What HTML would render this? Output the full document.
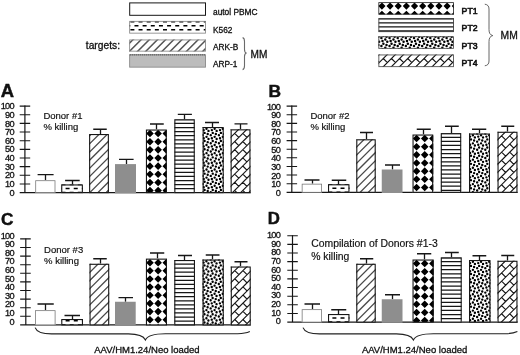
<!DOCTYPE html>
<html lang="en">
<head>
<meta charset="utf-8">
<title>Figure</title>
<style>
html,body{margin:0;padding:0;background:#fff;}
body{width:520px;height:355px;overflow:hidden;}
svg{display:block;}
svg text{font-family:"Liberation Sans", Arial, Helvetica, sans-serif;fill:#111;stroke:#111;stroke-width:0.3px;}
</style>
</head>
<body>
<svg width="520" height="355" viewBox="0 0 520 355">
<rect width="520" height="355" fill="#fff"/>
<defs>
<clipPath id="c1"><rect x="61.2" y="184.4" width="21.7" height="8.2"/></clipPath>
<clipPath id="c2"><rect x="89.1" y="134" width="19.8" height="58.6"/></clipPath>
<clipPath id="c3"><rect x="145.9" y="129.5" width="20.9" height="63.1"/></clipPath>
<clipPath id="c4"><rect x="174.3" y="119.4" width="20.5" height="73.2"/></clipPath>
<clipPath id="c5"><rect x="202.6" y="127" width="21.1" height="65.6"/></clipPath>
<clipPath id="c6"><rect x="230.6" y="129.3" width="19.9" height="63.3"/></clipPath>
<clipPath id="c7"><rect x="328" y="184.25" width="21.5" height="8.05"/></clipPath>
<clipPath id="c8"><rect x="356.25" y="139.25" width="19.5" height="53.05"/></clipPath>
<clipPath id="c9"><rect x="412.5" y="134.5" width="20.75" height="57.8"/></clipPath>
<clipPath id="c10"><rect x="440.75" y="133.25" width="20.5" height="59.05"/></clipPath>
<clipPath id="c11"><rect x="469" y="133.5" width="21" height="58.8"/></clipPath>
<clipPath id="c12"><rect x="497.5" y="131.75" width="20" height="60.55"/></clipPath>
<clipPath id="c13"><rect x="61.25" y="319" width="21.75" height="5.9"/></clipPath>
<clipPath id="c14"><rect x="89.5" y="263.75" width="19.75" height="61.15"/></clipPath>
<clipPath id="c15"><rect x="145.9" y="258.6" width="21.1" height="66.3"/></clipPath>
<clipPath id="c16"><rect x="174.25" y="260" width="20.75" height="64.9"/></clipPath>
<clipPath id="c17"><rect x="202.5" y="259.5" width="21.25" height="65.4"/></clipPath>
<clipPath id="c18"><rect x="230.75" y="266.5" width="20" height="58.4"/></clipPath>
<clipPath id="c19"><rect x="328" y="314" width="21.5" height="8.1"/></clipPath>
<clipPath id="c20"><rect x="356.25" y="263.75" width="19.5" height="58.35"/></clipPath>
<clipPath id="c21"><rect x="412.5" y="259.5" width="21.25" height="62.6"/></clipPath>
<clipPath id="c22"><rect x="440.75" y="257.5" width="21" height="64.6"/></clipPath>
<clipPath id="c23"><rect x="469" y="260" width="21.5" height="62.1"/></clipPath>
<clipPath id="c24"><rect x="497.5" y="260.75" width="20" height="61.35"/></clipPath>
<clipPath id="c25"><rect x="129.2" y="20.9" width="76.8" height="11.7"/></clipPath>
<clipPath id="c26"><rect x="129.2" y="39.5" width="76.8" height="12.1"/></clipPath>
<clipPath id="c27"><rect x="378.4" y="2.2" width="75.6" height="12.4"/></clipPath>
<clipPath id="c28"><rect x="378.4" y="18.2" width="75.6" height="13.9"/></clipPath>
<clipPath id="c29"><rect x="378.4" y="36.3" width="75.6" height="12.5"/></clipPath>
<clipPath id="c30"><rect x="378.4" y="54.5" width="75.6" height="12.6"/></clipPath>
</defs>
<g id="panelA">
<text x="0.7" y="97.0" font-size="18.4" font-weight="bold" style="stroke-width:0.45px">A</text>
<path d="M24.9 105.6V192.6" stroke="#161616" stroke-width="1.2" fill="none"/>
<path d="M19.7 192.6H250.8" stroke="#161616" stroke-width="1.3" fill="none"/>
<path d="M19.7 183.95H30.2M19.7 175.3H30.2M19.7 166.65H30.2M19.7 158H30.2M19.7 149.35H30.2M19.7 140.7H30.2M19.7 132.05H30.2M19.7 123.4H30.2M19.7 114.75H30.2M19.7 106.1H30.2" stroke="#161616" stroke-width="1.1" fill="none"/>
<text x="13.8" y="195.7" font-size="9.2" letter-spacing="-0.75" text-anchor="end">0</text>
<text x="13.8" y="187.05" font-size="9.2" letter-spacing="-0.75" text-anchor="end">10</text>
<text x="13.8" y="178.4" font-size="9.2" letter-spacing="-0.75" text-anchor="end">20</text>
<text x="13.8" y="169.75" font-size="9.2" letter-spacing="-0.75" text-anchor="end">30</text>
<text x="13.8" y="161.1" font-size="9.2" letter-spacing="-0.75" text-anchor="end">40</text>
<text x="13.8" y="152.45" font-size="9.2" letter-spacing="-0.75" text-anchor="end">50</text>
<text x="13.8" y="143.8" font-size="9.2" letter-spacing="-0.75" text-anchor="end">60</text>
<text x="13.8" y="135.15" font-size="9.2" letter-spacing="-0.75" text-anchor="end">70</text>
<text x="13.8" y="126.5" font-size="9.2" letter-spacing="-0.75" text-anchor="end">80</text>
<text x="13.8" y="117.85" font-size="9.2" letter-spacing="-0.75" text-anchor="end">90</text>
<text x="13.8" y="109.2" font-size="9.2" letter-spacing="-0.75" text-anchor="end">100</text>
<path d="M45.5 180.3V174.6M37.6 174.6H53.6" stroke="#161616" stroke-width="1.3" fill="none"/>
<rect x="35.3" y="180.3" width="20.1" height="12.3" fill="#fff"/>
<rect x="35.7" y="180.7" width="19.3" height="11.9" fill="none" stroke="#7a7a7a" stroke-width="0.8"/>
<path d="M72.5 184.4V180.5M65.1 180.5H79.7" stroke="#161616" stroke-width="1.3" fill="none"/>
<rect x="61.2" y="184.4" width="21.7" height="8.2" fill="#fff"/>
<path clip-path="url(#c1)" d="M61.5 184.45h4M69.65 184.45h4M77.8 184.45h4M57.43 188.53h4M65.58 188.53h4M73.73 188.53h4M81.88 188.53h4M61.5 192.6h4M69.65 192.6h4M77.8 192.6h4" stroke="#000" stroke-width="1.5" fill="none"/>
<rect x="61.75" y="184.95" width="20.6" height="7.65" fill="none" stroke="#161616" stroke-width="1.1"/>
<path d="M100.5 134V129.25M93.25 129.25H106.75" stroke="#161616" stroke-width="1.3" fill="none"/>
<rect x="89.1" y="134" width="19.8" height="58.6" fill="#fff"/>
<path clip-path="url(#c2)" d="M88.1 120.9L109.9 99.1M88.1 129.05L109.9 107.25M88.1 137.2L109.9 115.4M88.1 145.35L109.9 123.55M88.1 153.5L109.9 131.7M88.1 161.65L109.9 139.85M88.1 169.8L109.9 148M88.1 177.95L109.9 156.15M88.1 186.1L109.9 164.3M88.1 194.25L109.9 172.45M88.1 202.4L109.9 180.6M88.1 210.55L109.9 188.75M88.1 218.7L109.9 196.9M88.1 226.85L109.9 205.05" stroke="#4a4a4a" stroke-width="1.3" fill="none"/>
<rect x="89.65" y="134.55" width="18.7" height="58.05" fill="none" stroke="#161616" stroke-width="1.1"/>
<path d="M126.5 164.1V159.3M119 159.3H133.6" stroke="#161616" stroke-width="1.3" fill="none"/>
<rect x="115" y="164.1" width="21" height="29.2" fill="#8e8e8e"/>
<path d="M156.5 129.5V124M150 124H163.75" stroke="#161616" stroke-width="1.3" fill="none"/>
<rect x="145.9" y="129.5" width="20.9" height="63.1" fill="#fff"/>
<path clip-path="url(#c3)" d="M149.97 129.77l3.8 3.8l-3.8 3.8l-3.8 -3.8zM158.12 129.77l3.8 3.8l-3.8 3.8l-3.8 -3.8zM166.28 129.77l3.8 3.8l-3.8 3.8l-3.8 -3.8zM149.97 137.92l3.8 3.8l-3.8 3.8l-3.8 -3.8zM158.12 137.92l3.8 3.8l-3.8 3.8l-3.8 -3.8zM166.28 137.92l3.8 3.8l-3.8 3.8l-3.8 -3.8zM149.97 146.07l3.8 3.8l-3.8 3.8l-3.8 -3.8zM158.12 146.07l3.8 3.8l-3.8 3.8l-3.8 -3.8zM166.28 146.07l3.8 3.8l-3.8 3.8l-3.8 -3.8zM149.97 154.22l3.8 3.8l-3.8 3.8l-3.8 -3.8zM158.12 154.22l3.8 3.8l-3.8 3.8l-3.8 -3.8zM166.28 154.22l3.8 3.8l-3.8 3.8l-3.8 -3.8zM149.97 162.37l3.8 3.8l-3.8 3.8l-3.8 -3.8zM158.12 162.37l3.8 3.8l-3.8 3.8l-3.8 -3.8zM166.28 162.37l3.8 3.8l-3.8 3.8l-3.8 -3.8zM149.97 170.52l3.8 3.8l-3.8 3.8l-3.8 -3.8zM158.12 170.52l3.8 3.8l-3.8 3.8l-3.8 -3.8zM166.28 170.52l3.8 3.8l-3.8 3.8l-3.8 -3.8zM149.97 178.67l3.8 3.8l-3.8 3.8l-3.8 -3.8zM158.12 178.67l3.8 3.8l-3.8 3.8l-3.8 -3.8zM166.28 178.67l3.8 3.8l-3.8 3.8l-3.8 -3.8zM149.97 186.82l3.8 3.8l-3.8 3.8l-3.8 -3.8zM158.12 186.82l3.8 3.8l-3.8 3.8l-3.8 -3.8zM166.28 186.82l3.8 3.8l-3.8 3.8l-3.8 -3.8z" fill="#000"/>
<rect x="146.45" y="130.05" width="19.8" height="62.55" fill="none" stroke="#161616" stroke-width="1.1"/>
<path d="M184.5 119.4V114.4M177.8 114.4H191.9" stroke="#161616" stroke-width="1.3" fill="none"/>
<rect x="174.3" y="119.4" width="20.5" height="73.2" fill="#fff"/>
<path clip-path="url(#c4)" d="M174.3 119.4H194.8M174.3 123.48H194.8M174.3 127.55H194.8M174.3 131.62H194.8M174.3 135.7H194.8M174.3 139.78H194.8M174.3 143.85H194.8M174.3 147.93H194.8M174.3 152H194.8M174.3 156.08H194.8M174.3 160.15H194.8M174.3 164.23H194.8M174.3 168.3H194.8M174.3 172.38H194.8M174.3 176.45H194.8M174.3 180.53H194.8M174.3 184.6H194.8M174.3 188.68H194.8M174.3 192.75H194.8" stroke="#161616" stroke-width="1.25" fill="none"/>
<rect x="174.85" y="119.95" width="19.4" height="72.65" fill="none" stroke="#161616" stroke-width="1.1"/>
<path d="M212.5 127V122.5M205 122.5H219" stroke="#161616" stroke-width="1.3" fill="none"/>
<rect x="202.6" y="127" width="21.1" height="65.6" fill="#fff"/>
<path clip-path="url(#c5)" d="M206.5 125.85a1.2 1.2 0 1 0 2.4 0a1.2 1.2 0 1 0 -2.4 0zM214.65 125.85a1.2 1.2 0 1 0 2.4 0a1.2 1.2 0 1 0 -2.4 0zM222.8 125.85a1.2 1.2 0 1 0 2.4 0a1.2 1.2 0 1 0 -2.4 0zM201.4 127a1.2 1.2 0 1 0 2.4 0a1.2 1.2 0 1 0 -2.4 0zM205.3 128.7a1.2 1.2 0 1 0 2.4 0a1.2 1.2 0 1 0 -2.4 0zM202.5 130.1a1.2 1.2 0 1 0 2.4 0a1.2 1.2 0 1 0 -2.4 0zM207.3 130.9a1.2 1.2 0 1 0 2.4 0a1.2 1.2 0 1 0 -2.4 0zM203.4 132.9a1.2 1.2 0 1 0 2.4 0a1.2 1.2 0 1 0 -2.4 0zM206.5 134a1.2 1.2 0 1 0 2.4 0a1.2 1.2 0 1 0 -2.4 0zM209.55 127a1.2 1.2 0 1 0 2.4 0a1.2 1.2 0 1 0 -2.4 0zM213.45 128.7a1.2 1.2 0 1 0 2.4 0a1.2 1.2 0 1 0 -2.4 0zM210.65 130.1a1.2 1.2 0 1 0 2.4 0a1.2 1.2 0 1 0 -2.4 0zM215.45 130.9a1.2 1.2 0 1 0 2.4 0a1.2 1.2 0 1 0 -2.4 0zM211.55 132.9a1.2 1.2 0 1 0 2.4 0a1.2 1.2 0 1 0 -2.4 0zM214.65 134a1.2 1.2 0 1 0 2.4 0a1.2 1.2 0 1 0 -2.4 0zM217.7 127a1.2 1.2 0 1 0 2.4 0a1.2 1.2 0 1 0 -2.4 0zM221.6 128.7a1.2 1.2 0 1 0 2.4 0a1.2 1.2 0 1 0 -2.4 0zM218.8 130.1a1.2 1.2 0 1 0 2.4 0a1.2 1.2 0 1 0 -2.4 0zM223.6 130.9a1.2 1.2 0 1 0 2.4 0a1.2 1.2 0 1 0 -2.4 0zM219.7 132.9a1.2 1.2 0 1 0 2.4 0a1.2 1.2 0 1 0 -2.4 0zM222.8 134a1.2 1.2 0 1 0 2.4 0a1.2 1.2 0 1 0 -2.4 0zM201.4 135.15a1.2 1.2 0 1 0 2.4 0a1.2 1.2 0 1 0 -2.4 0zM205.3 136.85a1.2 1.2 0 1 0 2.4 0a1.2 1.2 0 1 0 -2.4 0zM202.5 138.25a1.2 1.2 0 1 0 2.4 0a1.2 1.2 0 1 0 -2.4 0zM207.3 139.05a1.2 1.2 0 1 0 2.4 0a1.2 1.2 0 1 0 -2.4 0zM203.4 141.05a1.2 1.2 0 1 0 2.4 0a1.2 1.2 0 1 0 -2.4 0zM206.5 142.15a1.2 1.2 0 1 0 2.4 0a1.2 1.2 0 1 0 -2.4 0zM209.55 135.15a1.2 1.2 0 1 0 2.4 0a1.2 1.2 0 1 0 -2.4 0zM213.45 136.85a1.2 1.2 0 1 0 2.4 0a1.2 1.2 0 1 0 -2.4 0zM210.65 138.25a1.2 1.2 0 1 0 2.4 0a1.2 1.2 0 1 0 -2.4 0zM215.45 139.05a1.2 1.2 0 1 0 2.4 0a1.2 1.2 0 1 0 -2.4 0zM211.55 141.05a1.2 1.2 0 1 0 2.4 0a1.2 1.2 0 1 0 -2.4 0zM214.65 142.15a1.2 1.2 0 1 0 2.4 0a1.2 1.2 0 1 0 -2.4 0zM217.7 135.15a1.2 1.2 0 1 0 2.4 0a1.2 1.2 0 1 0 -2.4 0zM221.6 136.85a1.2 1.2 0 1 0 2.4 0a1.2 1.2 0 1 0 -2.4 0zM218.8 138.25a1.2 1.2 0 1 0 2.4 0a1.2 1.2 0 1 0 -2.4 0zM223.6 139.05a1.2 1.2 0 1 0 2.4 0a1.2 1.2 0 1 0 -2.4 0zM219.7 141.05a1.2 1.2 0 1 0 2.4 0a1.2 1.2 0 1 0 -2.4 0zM222.8 142.15a1.2 1.2 0 1 0 2.4 0a1.2 1.2 0 1 0 -2.4 0zM201.4 143.3a1.2 1.2 0 1 0 2.4 0a1.2 1.2 0 1 0 -2.4 0zM205.3 145a1.2 1.2 0 1 0 2.4 0a1.2 1.2 0 1 0 -2.4 0zM202.5 146.4a1.2 1.2 0 1 0 2.4 0a1.2 1.2 0 1 0 -2.4 0zM207.3 147.2a1.2 1.2 0 1 0 2.4 0a1.2 1.2 0 1 0 -2.4 0zM203.4 149.2a1.2 1.2 0 1 0 2.4 0a1.2 1.2 0 1 0 -2.4 0zM206.5 150.3a1.2 1.2 0 1 0 2.4 0a1.2 1.2 0 1 0 -2.4 0zM209.55 143.3a1.2 1.2 0 1 0 2.4 0a1.2 1.2 0 1 0 -2.4 0zM213.45 145a1.2 1.2 0 1 0 2.4 0a1.2 1.2 0 1 0 -2.4 0zM210.65 146.4a1.2 1.2 0 1 0 2.4 0a1.2 1.2 0 1 0 -2.4 0zM215.45 147.2a1.2 1.2 0 1 0 2.4 0a1.2 1.2 0 1 0 -2.4 0zM211.55 149.2a1.2 1.2 0 1 0 2.4 0a1.2 1.2 0 1 0 -2.4 0zM214.65 150.3a1.2 1.2 0 1 0 2.4 0a1.2 1.2 0 1 0 -2.4 0zM217.7 143.3a1.2 1.2 0 1 0 2.4 0a1.2 1.2 0 1 0 -2.4 0zM221.6 145a1.2 1.2 0 1 0 2.4 0a1.2 1.2 0 1 0 -2.4 0zM218.8 146.4a1.2 1.2 0 1 0 2.4 0a1.2 1.2 0 1 0 -2.4 0zM223.6 147.2a1.2 1.2 0 1 0 2.4 0a1.2 1.2 0 1 0 -2.4 0zM219.7 149.2a1.2 1.2 0 1 0 2.4 0a1.2 1.2 0 1 0 -2.4 0zM222.8 150.3a1.2 1.2 0 1 0 2.4 0a1.2 1.2 0 1 0 -2.4 0zM201.4 151.45a1.2 1.2 0 1 0 2.4 0a1.2 1.2 0 1 0 -2.4 0zM205.3 153.15a1.2 1.2 0 1 0 2.4 0a1.2 1.2 0 1 0 -2.4 0zM202.5 154.55a1.2 1.2 0 1 0 2.4 0a1.2 1.2 0 1 0 -2.4 0zM207.3 155.35a1.2 1.2 0 1 0 2.4 0a1.2 1.2 0 1 0 -2.4 0zM203.4 157.35a1.2 1.2 0 1 0 2.4 0a1.2 1.2 0 1 0 -2.4 0zM206.5 158.45a1.2 1.2 0 1 0 2.4 0a1.2 1.2 0 1 0 -2.4 0zM209.55 151.45a1.2 1.2 0 1 0 2.4 0a1.2 1.2 0 1 0 -2.4 0zM213.45 153.15a1.2 1.2 0 1 0 2.4 0a1.2 1.2 0 1 0 -2.4 0zM210.65 154.55a1.2 1.2 0 1 0 2.4 0a1.2 1.2 0 1 0 -2.4 0zM215.45 155.35a1.2 1.2 0 1 0 2.4 0a1.2 1.2 0 1 0 -2.4 0zM211.55 157.35a1.2 1.2 0 1 0 2.4 0a1.2 1.2 0 1 0 -2.4 0zM214.65 158.45a1.2 1.2 0 1 0 2.4 0a1.2 1.2 0 1 0 -2.4 0zM217.7 151.45a1.2 1.2 0 1 0 2.4 0a1.2 1.2 0 1 0 -2.4 0zM221.6 153.15a1.2 1.2 0 1 0 2.4 0a1.2 1.2 0 1 0 -2.4 0zM218.8 154.55a1.2 1.2 0 1 0 2.4 0a1.2 1.2 0 1 0 -2.4 0zM223.6 155.35a1.2 1.2 0 1 0 2.4 0a1.2 1.2 0 1 0 -2.4 0zM219.7 157.35a1.2 1.2 0 1 0 2.4 0a1.2 1.2 0 1 0 -2.4 0zM222.8 158.45a1.2 1.2 0 1 0 2.4 0a1.2 1.2 0 1 0 -2.4 0zM201.4 159.6a1.2 1.2 0 1 0 2.4 0a1.2 1.2 0 1 0 -2.4 0zM205.3 161.3a1.2 1.2 0 1 0 2.4 0a1.2 1.2 0 1 0 -2.4 0zM202.5 162.7a1.2 1.2 0 1 0 2.4 0a1.2 1.2 0 1 0 -2.4 0zM207.3 163.5a1.2 1.2 0 1 0 2.4 0a1.2 1.2 0 1 0 -2.4 0zM203.4 165.5a1.2 1.2 0 1 0 2.4 0a1.2 1.2 0 1 0 -2.4 0zM206.5 166.6a1.2 1.2 0 1 0 2.4 0a1.2 1.2 0 1 0 -2.4 0zM209.55 159.6a1.2 1.2 0 1 0 2.4 0a1.2 1.2 0 1 0 -2.4 0zM213.45 161.3a1.2 1.2 0 1 0 2.4 0a1.2 1.2 0 1 0 -2.4 0zM210.65 162.7a1.2 1.2 0 1 0 2.4 0a1.2 1.2 0 1 0 -2.4 0zM215.45 163.5a1.2 1.2 0 1 0 2.4 0a1.2 1.2 0 1 0 -2.4 0zM211.55 165.5a1.2 1.2 0 1 0 2.4 0a1.2 1.2 0 1 0 -2.4 0zM214.65 166.6a1.2 1.2 0 1 0 2.4 0a1.2 1.2 0 1 0 -2.4 0zM217.7 159.6a1.2 1.2 0 1 0 2.4 0a1.2 1.2 0 1 0 -2.4 0zM221.6 161.3a1.2 1.2 0 1 0 2.4 0a1.2 1.2 0 1 0 -2.4 0zM218.8 162.7a1.2 1.2 0 1 0 2.4 0a1.2 1.2 0 1 0 -2.4 0zM223.6 163.5a1.2 1.2 0 1 0 2.4 0a1.2 1.2 0 1 0 -2.4 0zM219.7 165.5a1.2 1.2 0 1 0 2.4 0a1.2 1.2 0 1 0 -2.4 0zM222.8 166.6a1.2 1.2 0 1 0 2.4 0a1.2 1.2 0 1 0 -2.4 0zM201.4 167.75a1.2 1.2 0 1 0 2.4 0a1.2 1.2 0 1 0 -2.4 0zM205.3 169.45a1.2 1.2 0 1 0 2.4 0a1.2 1.2 0 1 0 -2.4 0zM202.5 170.85a1.2 1.2 0 1 0 2.4 0a1.2 1.2 0 1 0 -2.4 0zM207.3 171.65a1.2 1.2 0 1 0 2.4 0a1.2 1.2 0 1 0 -2.4 0zM203.4 173.65a1.2 1.2 0 1 0 2.4 0a1.2 1.2 0 1 0 -2.4 0zM206.5 174.75a1.2 1.2 0 1 0 2.4 0a1.2 1.2 0 1 0 -2.4 0zM209.55 167.75a1.2 1.2 0 1 0 2.4 0a1.2 1.2 0 1 0 -2.4 0zM213.45 169.45a1.2 1.2 0 1 0 2.4 0a1.2 1.2 0 1 0 -2.4 0zM210.65 170.85a1.2 1.2 0 1 0 2.4 0a1.2 1.2 0 1 0 -2.4 0zM215.45 171.65a1.2 1.2 0 1 0 2.4 0a1.2 1.2 0 1 0 -2.4 0zM211.55 173.65a1.2 1.2 0 1 0 2.4 0a1.2 1.2 0 1 0 -2.4 0zM214.65 174.75a1.2 1.2 0 1 0 2.4 0a1.2 1.2 0 1 0 -2.4 0zM217.7 167.75a1.2 1.2 0 1 0 2.4 0a1.2 1.2 0 1 0 -2.4 0zM221.6 169.45a1.2 1.2 0 1 0 2.4 0a1.2 1.2 0 1 0 -2.4 0zM218.8 170.85a1.2 1.2 0 1 0 2.4 0a1.2 1.2 0 1 0 -2.4 0zM223.6 171.65a1.2 1.2 0 1 0 2.4 0a1.2 1.2 0 1 0 -2.4 0zM219.7 173.65a1.2 1.2 0 1 0 2.4 0a1.2 1.2 0 1 0 -2.4 0zM222.8 174.75a1.2 1.2 0 1 0 2.4 0a1.2 1.2 0 1 0 -2.4 0zM201.4 175.9a1.2 1.2 0 1 0 2.4 0a1.2 1.2 0 1 0 -2.4 0zM205.3 177.6a1.2 1.2 0 1 0 2.4 0a1.2 1.2 0 1 0 -2.4 0zM202.5 179a1.2 1.2 0 1 0 2.4 0a1.2 1.2 0 1 0 -2.4 0zM207.3 179.8a1.2 1.2 0 1 0 2.4 0a1.2 1.2 0 1 0 -2.4 0zM203.4 181.8a1.2 1.2 0 1 0 2.4 0a1.2 1.2 0 1 0 -2.4 0zM206.5 182.9a1.2 1.2 0 1 0 2.4 0a1.2 1.2 0 1 0 -2.4 0zM209.55 175.9a1.2 1.2 0 1 0 2.4 0a1.2 1.2 0 1 0 -2.4 0zM213.45 177.6a1.2 1.2 0 1 0 2.4 0a1.2 1.2 0 1 0 -2.4 0zM210.65 179a1.2 1.2 0 1 0 2.4 0a1.2 1.2 0 1 0 -2.4 0zM215.45 179.8a1.2 1.2 0 1 0 2.4 0a1.2 1.2 0 1 0 -2.4 0zM211.55 181.8a1.2 1.2 0 1 0 2.4 0a1.2 1.2 0 1 0 -2.4 0zM214.65 182.9a1.2 1.2 0 1 0 2.4 0a1.2 1.2 0 1 0 -2.4 0zM217.7 175.9a1.2 1.2 0 1 0 2.4 0a1.2 1.2 0 1 0 -2.4 0zM221.6 177.6a1.2 1.2 0 1 0 2.4 0a1.2 1.2 0 1 0 -2.4 0zM218.8 179a1.2 1.2 0 1 0 2.4 0a1.2 1.2 0 1 0 -2.4 0zM223.6 179.8a1.2 1.2 0 1 0 2.4 0a1.2 1.2 0 1 0 -2.4 0zM219.7 181.8a1.2 1.2 0 1 0 2.4 0a1.2 1.2 0 1 0 -2.4 0zM222.8 182.9a1.2 1.2 0 1 0 2.4 0a1.2 1.2 0 1 0 -2.4 0zM201.4 184.05a1.2 1.2 0 1 0 2.4 0a1.2 1.2 0 1 0 -2.4 0zM205.3 185.75a1.2 1.2 0 1 0 2.4 0a1.2 1.2 0 1 0 -2.4 0zM202.5 187.15a1.2 1.2 0 1 0 2.4 0a1.2 1.2 0 1 0 -2.4 0zM207.3 187.95a1.2 1.2 0 1 0 2.4 0a1.2 1.2 0 1 0 -2.4 0zM203.4 189.95a1.2 1.2 0 1 0 2.4 0a1.2 1.2 0 1 0 -2.4 0zM206.5 191.05a1.2 1.2 0 1 0 2.4 0a1.2 1.2 0 1 0 -2.4 0zM209.55 184.05a1.2 1.2 0 1 0 2.4 0a1.2 1.2 0 1 0 -2.4 0zM213.45 185.75a1.2 1.2 0 1 0 2.4 0a1.2 1.2 0 1 0 -2.4 0zM210.65 187.15a1.2 1.2 0 1 0 2.4 0a1.2 1.2 0 1 0 -2.4 0zM215.45 187.95a1.2 1.2 0 1 0 2.4 0a1.2 1.2 0 1 0 -2.4 0zM211.55 189.95a1.2 1.2 0 1 0 2.4 0a1.2 1.2 0 1 0 -2.4 0zM214.65 191.05a1.2 1.2 0 1 0 2.4 0a1.2 1.2 0 1 0 -2.4 0zM217.7 184.05a1.2 1.2 0 1 0 2.4 0a1.2 1.2 0 1 0 -2.4 0zM221.6 185.75a1.2 1.2 0 1 0 2.4 0a1.2 1.2 0 1 0 -2.4 0zM218.8 187.15a1.2 1.2 0 1 0 2.4 0a1.2 1.2 0 1 0 -2.4 0zM223.6 187.95a1.2 1.2 0 1 0 2.4 0a1.2 1.2 0 1 0 -2.4 0zM219.7 189.95a1.2 1.2 0 1 0 2.4 0a1.2 1.2 0 1 0 -2.4 0zM222.8 191.05a1.2 1.2 0 1 0 2.4 0a1.2 1.2 0 1 0 -2.4 0zM201.4 192.2a1.2 1.2 0 1 0 2.4 0a1.2 1.2 0 1 0 -2.4 0zM209.55 192.2a1.2 1.2 0 1 0 2.4 0a1.2 1.2 0 1 0 -2.4 0zM217.7 192.2a1.2 1.2 0 1 0 2.4 0a1.2 1.2 0 1 0 -2.4 0z" fill="#000"/>
<rect x="203.15" y="127.55" width="20" height="65.05" fill="none" stroke="#161616" stroke-width="1.1"/>
<path d="M240.5 129.3V123.9M234.5 123.9H247.5" stroke="#161616" stroke-width="1.3" fill="none"/>
<rect x="230.6" y="129.3" width="19.9" height="63.3" fill="#fff"/>
<path clip-path="url(#c6)" d="M229.6 122.15L251.5 100.25M229.6 130.3L251.5 108.4M229.6 138.45L251.5 116.55M229.6 146.6L251.5 124.7M229.6 154.75L251.5 132.85M229.6 162.9L251.5 141M229.6 171.05L251.5 149.15M229.6 179.2L251.5 157.3M229.6 187.35L251.5 165.45M229.6 195.5L251.5 173.6M229.6 203.65L251.5 181.75M229.6 211.8L251.5 189.9M229.6 219.95L251.5 198.05M229.6 228.1L251.5 206.2M234.67 133.38l4.08 4.08M242.82 133.38l4.08 4.08M234.67 141.53l4.08 4.08M242.82 141.53l4.08 4.08M234.67 149.68l4.08 4.08M242.82 149.68l4.08 4.08M234.67 157.82l4.08 4.08M242.82 157.82l4.08 4.08M234.67 165.97l4.08 4.08M242.82 165.97l4.08 4.08M234.67 174.12l4.08 4.08M242.82 174.12l4.08 4.08M234.67 182.28l4.08 4.08M242.82 182.28l4.08 4.08M234.67 190.43l4.08 4.08M242.82 190.43l4.08 4.08" stroke="#161616" stroke-width="1.15" fill="none"/>
<rect x="231.15" y="129.85" width="18.8" height="62.75" fill="none" stroke="#161616" stroke-width="1.1"/>
<text x="43.4" y="118.9" font-size="9.5" style="stroke-width:0.18px">Donor #1</text>
<text x="43.4" y="130.1" font-size="9.5" style="stroke-width:0.18px">% killing</text>
</g>
<g id="panelB">
<text x="268.4" y="97.0" font-size="17.4" font-weight="bold" style="stroke-width:0.45px">B</text>
<path d="M291.8 105.6V192.3" stroke="#161616" stroke-width="1.2" fill="none"/>
<path d="M286.6 192.3H517.7" stroke="#161616" stroke-width="1.3" fill="none"/>
<path d="M286.6 183.68H297.1M286.6 175.06H297.1M286.6 166.44H297.1M286.6 157.82H297.1M286.6 149.2H297.1M286.6 140.58H297.1M286.6 131.96H297.1M286.6 123.34H297.1M286.6 114.72H297.1M286.6 106.1H297.1" stroke="#161616" stroke-width="1.1" fill="none"/>
<text x="280.1" y="195.8" font-size="9.2" letter-spacing="-0.75" text-anchor="end">0</text>
<text x="280.1" y="187.18" font-size="9.2" letter-spacing="-0.75" text-anchor="end">10</text>
<text x="280.1" y="178.56" font-size="9.2" letter-spacing="-0.75" text-anchor="end">20</text>
<text x="280.1" y="169.94" font-size="9.2" letter-spacing="-0.75" text-anchor="end">30</text>
<text x="280.1" y="161.32" font-size="9.2" letter-spacing="-0.75" text-anchor="end">40</text>
<text x="280.1" y="152.7" font-size="9.2" letter-spacing="-0.75" text-anchor="end">50</text>
<text x="280.1" y="144.08" font-size="9.2" letter-spacing="-0.75" text-anchor="end">60</text>
<text x="280.1" y="135.46" font-size="9.2" letter-spacing="-0.75" text-anchor="end">70</text>
<text x="280.1" y="126.84" font-size="9.2" letter-spacing="-0.75" text-anchor="end">80</text>
<text x="280.1" y="118.22" font-size="9.2" letter-spacing="-0.75" text-anchor="end">90</text>
<text x="280.1" y="109.6" font-size="9.2" letter-spacing="-0.75" text-anchor="end">100</text>
<path d="M312.5 183.75V180M304.5 180H319.5" stroke="#161616" stroke-width="1.3" fill="none"/>
<rect x="301.75" y="183.75" width="20.25" height="8.55" fill="#fff"/>
<rect x="302.15" y="184.15" width="19.45" height="8.15" fill="none" stroke="#7a7a7a" stroke-width="0.8"/>
<path d="M338.5 184.25V180.25M331.75 180.25H346.25" stroke="#161616" stroke-width="1.3" fill="none"/>
<rect x="328" y="184.25" width="21.5" height="8.05" fill="#fff"/>
<path clip-path="url(#c7)" d="M328.3 184.15h4M336.45 184.15h4M344.6 184.15h4M324.23 188.23h4M332.38 188.23h4M340.52 188.23h4M348.68 188.23h4M328.3 192.3h4M336.45 192.3h4M344.6 192.3h4" stroke="#000" stroke-width="1.5" fill="none"/>
<rect x="328.55" y="184.8" width="20.4" height="7.5" fill="none" stroke="#161616" stroke-width="1.1"/>
<path d="M366.5 139.25V132.5M360 132.5H373" stroke="#161616" stroke-width="1.3" fill="none"/>
<rect x="356.25" y="139.25" width="19.5" height="53.05" fill="#fff"/>
<path clip-path="url(#c8)" d="M355.25 132L376.75 110.5M355.25 140.15L376.75 118.65M355.25 148.3L376.75 126.8M355.25 156.45L376.75 134.95M355.25 164.6L376.75 143.1M355.25 172.75L376.75 151.25M355.25 180.9L376.75 159.4M355.25 189.05L376.75 167.55M355.25 197.2L376.75 175.7M355.25 205.35L376.75 183.85M355.25 213.5L376.75 192M355.25 221.65L376.75 200.15" stroke="#4a4a4a" stroke-width="1.3" fill="none"/>
<rect x="356.8" y="139.8" width="18.4" height="52.5" fill="none" stroke="#161616" stroke-width="1.1"/>
<path d="M392.5 169.5V165M385 165H400" stroke="#161616" stroke-width="1.3" fill="none"/>
<rect x="381.75" y="169.5" width="20.75" height="23.5" fill="#8e8e8e"/>
<path d="M423.5 134.5V129.25M416.75 129.25H430.75" stroke="#161616" stroke-width="1.3" fill="none"/>
<rect x="412.5" y="134.5" width="20.75" height="57.8" fill="#fff"/>
<path clip-path="url(#c9)" d="M408.43 134.77l3.8 3.8l-3.8 3.8l-3.8 -3.8zM416.57 134.77l3.8 3.8l-3.8 3.8l-3.8 -3.8zM424.72 134.77l3.8 3.8l-3.8 3.8l-3.8 -3.8zM432.88 134.77l3.8 3.8l-3.8 3.8l-3.8 -3.8zM408.43 142.92l3.8 3.8l-3.8 3.8l-3.8 -3.8zM416.57 142.92l3.8 3.8l-3.8 3.8l-3.8 -3.8zM424.72 142.92l3.8 3.8l-3.8 3.8l-3.8 -3.8zM432.88 142.92l3.8 3.8l-3.8 3.8l-3.8 -3.8zM408.43 151.07l3.8 3.8l-3.8 3.8l-3.8 -3.8zM416.57 151.07l3.8 3.8l-3.8 3.8l-3.8 -3.8zM424.72 151.07l3.8 3.8l-3.8 3.8l-3.8 -3.8zM432.88 151.07l3.8 3.8l-3.8 3.8l-3.8 -3.8zM408.43 159.22l3.8 3.8l-3.8 3.8l-3.8 -3.8zM416.57 159.22l3.8 3.8l-3.8 3.8l-3.8 -3.8zM424.72 159.22l3.8 3.8l-3.8 3.8l-3.8 -3.8zM432.88 159.22l3.8 3.8l-3.8 3.8l-3.8 -3.8zM408.43 167.37l3.8 3.8l-3.8 3.8l-3.8 -3.8zM416.57 167.37l3.8 3.8l-3.8 3.8l-3.8 -3.8zM424.72 167.37l3.8 3.8l-3.8 3.8l-3.8 -3.8zM432.88 167.37l3.8 3.8l-3.8 3.8l-3.8 -3.8zM408.43 175.52l3.8 3.8l-3.8 3.8l-3.8 -3.8zM416.57 175.52l3.8 3.8l-3.8 3.8l-3.8 -3.8zM424.72 175.52l3.8 3.8l-3.8 3.8l-3.8 -3.8zM432.88 175.52l3.8 3.8l-3.8 3.8l-3.8 -3.8zM408.43 183.67l3.8 3.8l-3.8 3.8l-3.8 -3.8zM416.57 183.67l3.8 3.8l-3.8 3.8l-3.8 -3.8zM424.72 183.67l3.8 3.8l-3.8 3.8l-3.8 -3.8zM432.88 183.67l3.8 3.8l-3.8 3.8l-3.8 -3.8zM408.43 191.82l3.8 3.8l-3.8 3.8l-3.8 -3.8zM416.57 191.82l3.8 3.8l-3.8 3.8l-3.8 -3.8zM424.72 191.82l3.8 3.8l-3.8 3.8l-3.8 -3.8zM432.88 191.82l3.8 3.8l-3.8 3.8l-3.8 -3.8z" fill="#000"/>
<rect x="413.05" y="135.05" width="19.65" height="57.25" fill="none" stroke="#161616" stroke-width="1.1"/>
<path d="M451.5 133.25V126.25M445 126.25H458.75" stroke="#161616" stroke-width="1.3" fill="none"/>
<rect x="440.75" y="133.25" width="20.5" height="59.05" fill="#fff"/>
<path clip-path="url(#c10)" d="M440.75 133.25H461.25M440.75 137.32H461.25M440.75 141.4H461.25M440.75 145.47H461.25M440.75 149.55H461.25M440.75 153.62H461.25M440.75 157.7H461.25M440.75 161.78H461.25M440.75 165.85H461.25M440.75 169.93H461.25M440.75 174H461.25M440.75 178.07H461.25M440.75 182.15H461.25M440.75 186.22H461.25M440.75 190.3H461.25" stroke="#161616" stroke-width="1.25" fill="none"/>
<rect x="441.3" y="133.8" width="19.4" height="58.5" fill="none" stroke="#161616" stroke-width="1.1"/>
<path d="M479.5 133.5V129.25M472 129.25H486.25" stroke="#161616" stroke-width="1.3" fill="none"/>
<rect x="469" y="133.5" width="21" height="58.8" fill="#fff"/>
<path clip-path="url(#c11)" d="M472.9 132.35a1.2 1.2 0 1 0 2.4 0a1.2 1.2 0 1 0 -2.4 0zM481.05 132.35a1.2 1.2 0 1 0 2.4 0a1.2 1.2 0 1 0 -2.4 0zM489.2 132.35a1.2 1.2 0 1 0 2.4 0a1.2 1.2 0 1 0 -2.4 0zM467.8 133.5a1.2 1.2 0 1 0 2.4 0a1.2 1.2 0 1 0 -2.4 0zM471.7 135.2a1.2 1.2 0 1 0 2.4 0a1.2 1.2 0 1 0 -2.4 0zM468.9 136.6a1.2 1.2 0 1 0 2.4 0a1.2 1.2 0 1 0 -2.4 0zM473.7 137.4a1.2 1.2 0 1 0 2.4 0a1.2 1.2 0 1 0 -2.4 0zM469.8 139.4a1.2 1.2 0 1 0 2.4 0a1.2 1.2 0 1 0 -2.4 0zM472.9 140.5a1.2 1.2 0 1 0 2.4 0a1.2 1.2 0 1 0 -2.4 0zM475.95 133.5a1.2 1.2 0 1 0 2.4 0a1.2 1.2 0 1 0 -2.4 0zM479.85 135.2a1.2 1.2 0 1 0 2.4 0a1.2 1.2 0 1 0 -2.4 0zM477.05 136.6a1.2 1.2 0 1 0 2.4 0a1.2 1.2 0 1 0 -2.4 0zM481.85 137.4a1.2 1.2 0 1 0 2.4 0a1.2 1.2 0 1 0 -2.4 0zM477.95 139.4a1.2 1.2 0 1 0 2.4 0a1.2 1.2 0 1 0 -2.4 0zM481.05 140.5a1.2 1.2 0 1 0 2.4 0a1.2 1.2 0 1 0 -2.4 0zM484.1 133.5a1.2 1.2 0 1 0 2.4 0a1.2 1.2 0 1 0 -2.4 0zM488 135.2a1.2 1.2 0 1 0 2.4 0a1.2 1.2 0 1 0 -2.4 0zM485.2 136.6a1.2 1.2 0 1 0 2.4 0a1.2 1.2 0 1 0 -2.4 0zM490 137.4a1.2 1.2 0 1 0 2.4 0a1.2 1.2 0 1 0 -2.4 0zM486.1 139.4a1.2 1.2 0 1 0 2.4 0a1.2 1.2 0 1 0 -2.4 0zM489.2 140.5a1.2 1.2 0 1 0 2.4 0a1.2 1.2 0 1 0 -2.4 0zM467.8 141.65a1.2 1.2 0 1 0 2.4 0a1.2 1.2 0 1 0 -2.4 0zM471.7 143.35a1.2 1.2 0 1 0 2.4 0a1.2 1.2 0 1 0 -2.4 0zM468.9 144.75a1.2 1.2 0 1 0 2.4 0a1.2 1.2 0 1 0 -2.4 0zM473.7 145.55a1.2 1.2 0 1 0 2.4 0a1.2 1.2 0 1 0 -2.4 0zM469.8 147.55a1.2 1.2 0 1 0 2.4 0a1.2 1.2 0 1 0 -2.4 0zM472.9 148.65a1.2 1.2 0 1 0 2.4 0a1.2 1.2 0 1 0 -2.4 0zM475.95 141.65a1.2 1.2 0 1 0 2.4 0a1.2 1.2 0 1 0 -2.4 0zM479.85 143.35a1.2 1.2 0 1 0 2.4 0a1.2 1.2 0 1 0 -2.4 0zM477.05 144.75a1.2 1.2 0 1 0 2.4 0a1.2 1.2 0 1 0 -2.4 0zM481.85 145.55a1.2 1.2 0 1 0 2.4 0a1.2 1.2 0 1 0 -2.4 0zM477.95 147.55a1.2 1.2 0 1 0 2.4 0a1.2 1.2 0 1 0 -2.4 0zM481.05 148.65a1.2 1.2 0 1 0 2.4 0a1.2 1.2 0 1 0 -2.4 0zM484.1 141.65a1.2 1.2 0 1 0 2.4 0a1.2 1.2 0 1 0 -2.4 0zM488 143.35a1.2 1.2 0 1 0 2.4 0a1.2 1.2 0 1 0 -2.4 0zM485.2 144.75a1.2 1.2 0 1 0 2.4 0a1.2 1.2 0 1 0 -2.4 0zM490 145.55a1.2 1.2 0 1 0 2.4 0a1.2 1.2 0 1 0 -2.4 0zM486.1 147.55a1.2 1.2 0 1 0 2.4 0a1.2 1.2 0 1 0 -2.4 0zM489.2 148.65a1.2 1.2 0 1 0 2.4 0a1.2 1.2 0 1 0 -2.4 0zM467.8 149.8a1.2 1.2 0 1 0 2.4 0a1.2 1.2 0 1 0 -2.4 0zM471.7 151.5a1.2 1.2 0 1 0 2.4 0a1.2 1.2 0 1 0 -2.4 0zM468.9 152.9a1.2 1.2 0 1 0 2.4 0a1.2 1.2 0 1 0 -2.4 0zM473.7 153.7a1.2 1.2 0 1 0 2.4 0a1.2 1.2 0 1 0 -2.4 0zM469.8 155.7a1.2 1.2 0 1 0 2.4 0a1.2 1.2 0 1 0 -2.4 0zM472.9 156.8a1.2 1.2 0 1 0 2.4 0a1.2 1.2 0 1 0 -2.4 0zM475.95 149.8a1.2 1.2 0 1 0 2.4 0a1.2 1.2 0 1 0 -2.4 0zM479.85 151.5a1.2 1.2 0 1 0 2.4 0a1.2 1.2 0 1 0 -2.4 0zM477.05 152.9a1.2 1.2 0 1 0 2.4 0a1.2 1.2 0 1 0 -2.4 0zM481.85 153.7a1.2 1.2 0 1 0 2.4 0a1.2 1.2 0 1 0 -2.4 0zM477.95 155.7a1.2 1.2 0 1 0 2.4 0a1.2 1.2 0 1 0 -2.4 0zM481.05 156.8a1.2 1.2 0 1 0 2.4 0a1.2 1.2 0 1 0 -2.4 0zM484.1 149.8a1.2 1.2 0 1 0 2.4 0a1.2 1.2 0 1 0 -2.4 0zM488 151.5a1.2 1.2 0 1 0 2.4 0a1.2 1.2 0 1 0 -2.4 0zM485.2 152.9a1.2 1.2 0 1 0 2.4 0a1.2 1.2 0 1 0 -2.4 0zM490 153.7a1.2 1.2 0 1 0 2.4 0a1.2 1.2 0 1 0 -2.4 0zM486.1 155.7a1.2 1.2 0 1 0 2.4 0a1.2 1.2 0 1 0 -2.4 0zM489.2 156.8a1.2 1.2 0 1 0 2.4 0a1.2 1.2 0 1 0 -2.4 0zM467.8 157.95a1.2 1.2 0 1 0 2.4 0a1.2 1.2 0 1 0 -2.4 0zM471.7 159.65a1.2 1.2 0 1 0 2.4 0a1.2 1.2 0 1 0 -2.4 0zM468.9 161.05a1.2 1.2 0 1 0 2.4 0a1.2 1.2 0 1 0 -2.4 0zM473.7 161.85a1.2 1.2 0 1 0 2.4 0a1.2 1.2 0 1 0 -2.4 0zM469.8 163.85a1.2 1.2 0 1 0 2.4 0a1.2 1.2 0 1 0 -2.4 0zM472.9 164.95a1.2 1.2 0 1 0 2.4 0a1.2 1.2 0 1 0 -2.4 0zM475.95 157.95a1.2 1.2 0 1 0 2.4 0a1.2 1.2 0 1 0 -2.4 0zM479.85 159.65a1.2 1.2 0 1 0 2.4 0a1.2 1.2 0 1 0 -2.4 0zM477.05 161.05a1.2 1.2 0 1 0 2.4 0a1.2 1.2 0 1 0 -2.4 0zM481.85 161.85a1.2 1.2 0 1 0 2.4 0a1.2 1.2 0 1 0 -2.4 0zM477.95 163.85a1.2 1.2 0 1 0 2.4 0a1.2 1.2 0 1 0 -2.4 0zM481.05 164.95a1.2 1.2 0 1 0 2.4 0a1.2 1.2 0 1 0 -2.4 0zM484.1 157.95a1.2 1.2 0 1 0 2.4 0a1.2 1.2 0 1 0 -2.4 0zM488 159.65a1.2 1.2 0 1 0 2.4 0a1.2 1.2 0 1 0 -2.4 0zM485.2 161.05a1.2 1.2 0 1 0 2.4 0a1.2 1.2 0 1 0 -2.4 0zM490 161.85a1.2 1.2 0 1 0 2.4 0a1.2 1.2 0 1 0 -2.4 0zM486.1 163.85a1.2 1.2 0 1 0 2.4 0a1.2 1.2 0 1 0 -2.4 0zM489.2 164.95a1.2 1.2 0 1 0 2.4 0a1.2 1.2 0 1 0 -2.4 0zM467.8 166.1a1.2 1.2 0 1 0 2.4 0a1.2 1.2 0 1 0 -2.4 0zM471.7 167.8a1.2 1.2 0 1 0 2.4 0a1.2 1.2 0 1 0 -2.4 0zM468.9 169.2a1.2 1.2 0 1 0 2.4 0a1.2 1.2 0 1 0 -2.4 0zM473.7 170a1.2 1.2 0 1 0 2.4 0a1.2 1.2 0 1 0 -2.4 0zM469.8 172a1.2 1.2 0 1 0 2.4 0a1.2 1.2 0 1 0 -2.4 0zM472.9 173.1a1.2 1.2 0 1 0 2.4 0a1.2 1.2 0 1 0 -2.4 0zM475.95 166.1a1.2 1.2 0 1 0 2.4 0a1.2 1.2 0 1 0 -2.4 0zM479.85 167.8a1.2 1.2 0 1 0 2.4 0a1.2 1.2 0 1 0 -2.4 0zM477.05 169.2a1.2 1.2 0 1 0 2.4 0a1.2 1.2 0 1 0 -2.4 0zM481.85 170a1.2 1.2 0 1 0 2.4 0a1.2 1.2 0 1 0 -2.4 0zM477.95 172a1.2 1.2 0 1 0 2.4 0a1.2 1.2 0 1 0 -2.4 0zM481.05 173.1a1.2 1.2 0 1 0 2.4 0a1.2 1.2 0 1 0 -2.4 0zM484.1 166.1a1.2 1.2 0 1 0 2.4 0a1.2 1.2 0 1 0 -2.4 0zM488 167.8a1.2 1.2 0 1 0 2.4 0a1.2 1.2 0 1 0 -2.4 0zM485.2 169.2a1.2 1.2 0 1 0 2.4 0a1.2 1.2 0 1 0 -2.4 0zM490 170a1.2 1.2 0 1 0 2.4 0a1.2 1.2 0 1 0 -2.4 0zM486.1 172a1.2 1.2 0 1 0 2.4 0a1.2 1.2 0 1 0 -2.4 0zM489.2 173.1a1.2 1.2 0 1 0 2.4 0a1.2 1.2 0 1 0 -2.4 0zM467.8 174.25a1.2 1.2 0 1 0 2.4 0a1.2 1.2 0 1 0 -2.4 0zM471.7 175.95a1.2 1.2 0 1 0 2.4 0a1.2 1.2 0 1 0 -2.4 0zM468.9 177.35a1.2 1.2 0 1 0 2.4 0a1.2 1.2 0 1 0 -2.4 0zM473.7 178.15a1.2 1.2 0 1 0 2.4 0a1.2 1.2 0 1 0 -2.4 0zM469.8 180.15a1.2 1.2 0 1 0 2.4 0a1.2 1.2 0 1 0 -2.4 0zM472.9 181.25a1.2 1.2 0 1 0 2.4 0a1.2 1.2 0 1 0 -2.4 0zM475.95 174.25a1.2 1.2 0 1 0 2.4 0a1.2 1.2 0 1 0 -2.4 0zM479.85 175.95a1.2 1.2 0 1 0 2.4 0a1.2 1.2 0 1 0 -2.4 0zM477.05 177.35a1.2 1.2 0 1 0 2.4 0a1.2 1.2 0 1 0 -2.4 0zM481.85 178.15a1.2 1.2 0 1 0 2.4 0a1.2 1.2 0 1 0 -2.4 0zM477.95 180.15a1.2 1.2 0 1 0 2.4 0a1.2 1.2 0 1 0 -2.4 0zM481.05 181.25a1.2 1.2 0 1 0 2.4 0a1.2 1.2 0 1 0 -2.4 0zM484.1 174.25a1.2 1.2 0 1 0 2.4 0a1.2 1.2 0 1 0 -2.4 0zM488 175.95a1.2 1.2 0 1 0 2.4 0a1.2 1.2 0 1 0 -2.4 0zM485.2 177.35a1.2 1.2 0 1 0 2.4 0a1.2 1.2 0 1 0 -2.4 0zM490 178.15a1.2 1.2 0 1 0 2.4 0a1.2 1.2 0 1 0 -2.4 0zM486.1 180.15a1.2 1.2 0 1 0 2.4 0a1.2 1.2 0 1 0 -2.4 0zM489.2 181.25a1.2 1.2 0 1 0 2.4 0a1.2 1.2 0 1 0 -2.4 0zM467.8 182.4a1.2 1.2 0 1 0 2.4 0a1.2 1.2 0 1 0 -2.4 0zM471.7 184.1a1.2 1.2 0 1 0 2.4 0a1.2 1.2 0 1 0 -2.4 0zM468.9 185.5a1.2 1.2 0 1 0 2.4 0a1.2 1.2 0 1 0 -2.4 0zM473.7 186.3a1.2 1.2 0 1 0 2.4 0a1.2 1.2 0 1 0 -2.4 0zM469.8 188.3a1.2 1.2 0 1 0 2.4 0a1.2 1.2 0 1 0 -2.4 0zM472.9 189.4a1.2 1.2 0 1 0 2.4 0a1.2 1.2 0 1 0 -2.4 0zM475.95 182.4a1.2 1.2 0 1 0 2.4 0a1.2 1.2 0 1 0 -2.4 0zM479.85 184.1a1.2 1.2 0 1 0 2.4 0a1.2 1.2 0 1 0 -2.4 0zM477.05 185.5a1.2 1.2 0 1 0 2.4 0a1.2 1.2 0 1 0 -2.4 0zM481.85 186.3a1.2 1.2 0 1 0 2.4 0a1.2 1.2 0 1 0 -2.4 0zM477.95 188.3a1.2 1.2 0 1 0 2.4 0a1.2 1.2 0 1 0 -2.4 0zM481.05 189.4a1.2 1.2 0 1 0 2.4 0a1.2 1.2 0 1 0 -2.4 0zM484.1 182.4a1.2 1.2 0 1 0 2.4 0a1.2 1.2 0 1 0 -2.4 0zM488 184.1a1.2 1.2 0 1 0 2.4 0a1.2 1.2 0 1 0 -2.4 0zM485.2 185.5a1.2 1.2 0 1 0 2.4 0a1.2 1.2 0 1 0 -2.4 0zM490 186.3a1.2 1.2 0 1 0 2.4 0a1.2 1.2 0 1 0 -2.4 0zM486.1 188.3a1.2 1.2 0 1 0 2.4 0a1.2 1.2 0 1 0 -2.4 0zM489.2 189.4a1.2 1.2 0 1 0 2.4 0a1.2 1.2 0 1 0 -2.4 0zM467.8 190.55a1.2 1.2 0 1 0 2.4 0a1.2 1.2 0 1 0 -2.4 0zM471.7 192.25a1.2 1.2 0 1 0 2.4 0a1.2 1.2 0 1 0 -2.4 0zM475.95 190.55a1.2 1.2 0 1 0 2.4 0a1.2 1.2 0 1 0 -2.4 0zM479.85 192.25a1.2 1.2 0 1 0 2.4 0a1.2 1.2 0 1 0 -2.4 0zM484.1 190.55a1.2 1.2 0 1 0 2.4 0a1.2 1.2 0 1 0 -2.4 0zM488 192.25a1.2 1.2 0 1 0 2.4 0a1.2 1.2 0 1 0 -2.4 0z" fill="#000"/>
<rect x="469.55" y="134.05" width="19.9" height="58.25" fill="none" stroke="#161616" stroke-width="1.1"/>
<path d="M507.5 131.75V126.25M501.25 126.25H514.25" stroke="#161616" stroke-width="1.3" fill="none"/>
<rect x="497.5" y="131.75" width="20" height="60.55" fill="#fff"/>
<path clip-path="url(#c12)" d="M496.5 124.6L518.5 102.6M496.5 132.75L518.5 110.75M496.5 140.9L518.5 118.9M496.5 149.05L518.5 127.05M496.5 157.2L518.5 135.2M496.5 165.35L518.5 143.35M496.5 173.5L518.5 151.5M496.5 181.65L518.5 159.65M496.5 189.8L518.5 167.8M496.5 197.95L518.5 175.95M496.5 206.1L518.5 184.1M496.5 214.25L518.5 192.25M496.5 222.4L518.5 200.4M493.43 135.82l4.08 4.08M501.57 135.82l4.08 4.08M509.72 135.82l4.08 4.08M493.43 143.97l4.08 4.08M501.57 143.97l4.08 4.08M509.72 143.97l4.08 4.08M493.43 152.12l4.08 4.08M501.57 152.12l4.08 4.08M509.72 152.12l4.08 4.08M493.43 160.27l4.08 4.08M501.57 160.27l4.08 4.08M509.72 160.27l4.08 4.08M493.43 168.42l4.08 4.08M501.57 168.42l4.08 4.08M509.72 168.42l4.08 4.08M493.43 176.57l4.08 4.08M501.57 176.57l4.08 4.08M509.72 176.57l4.08 4.08M493.43 184.72l4.08 4.08M501.57 184.72l4.08 4.08M509.72 184.72l4.08 4.08" stroke="#161616" stroke-width="1.15" fill="none"/>
<rect x="498.05" y="132.3" width="18.9" height="60" fill="none" stroke="#161616" stroke-width="1.1"/>
<text x="310.4" y="118.9" font-size="9.5" style="stroke-width:0.18px">Donor #2</text>
<text x="310.4" y="130.1" font-size="9.5" style="stroke-width:0.18px">% killing</text>
</g>
<g id="panelC">
<text x="1.1" y="225.2" font-size="17.2" font-weight="bold" style="stroke-width:0.45px">C</text>
<path d="M25.8 238.4V324.9" stroke="#161616" stroke-width="1.2" fill="none"/>
<path d="M20.15 324.9H250.8" stroke="#161616" stroke-width="1.3" fill="none"/>
<path d="M20.15 316.3H30.75M20.15 307.7H30.75M20.15 299.1H30.75M20.15 290.5H30.75M20.15 281.9H30.75M20.15 273.3H30.75M20.15 264.7H30.75M20.15 256.1H30.75M20.15 247.5H30.75M20.15 238.9H30.75" stroke="#161616" stroke-width="1.1" fill="none"/>
<text x="13.8" y="324.6" font-size="9.2" letter-spacing="-0.75" text-anchor="end">0</text>
<text x="13.8" y="316" font-size="9.2" letter-spacing="-0.75" text-anchor="end">10</text>
<text x="13.8" y="307.4" font-size="9.2" letter-spacing="-0.75" text-anchor="end">20</text>
<text x="13.8" y="298.8" font-size="9.2" letter-spacing="-0.75" text-anchor="end">30</text>
<text x="13.8" y="290.2" font-size="9.2" letter-spacing="-0.75" text-anchor="end">40</text>
<text x="13.8" y="281.6" font-size="9.2" letter-spacing="-0.75" text-anchor="end">50</text>
<text x="13.8" y="273" font-size="9.2" letter-spacing="-0.75" text-anchor="end">60</text>
<text x="13.8" y="264.4" font-size="9.2" letter-spacing="-0.75" text-anchor="end">70</text>
<text x="13.8" y="255.8" font-size="9.2" letter-spacing="-0.75" text-anchor="end">80</text>
<text x="13.8" y="247.2" font-size="9.2" letter-spacing="-0.75" text-anchor="end">90</text>
<text x="13.8" y="238.6" font-size="9.2" letter-spacing="-0.75" text-anchor="end">100</text>
<path d="M45.5 310.25V304M37.5 304H53.75" stroke="#161616" stroke-width="1.3" fill="none"/>
<rect x="35" y="310.25" width="20.5" height="14.65" fill="#fff"/>
<rect x="35.4" y="310.65" width="19.7" height="14.25" fill="none" stroke="#7a7a7a" stroke-width="0.8"/>
<path d="M72.5 319V315.5M64.5 315.5H80" stroke="#161616" stroke-width="1.3" fill="none"/>
<rect x="61.25" y="319" width="21.75" height="5.9" fill="#fff"/>
<path clip-path="url(#c13)" d="M57.48 320.82h4M65.62 320.82h4M73.78 320.82h4M81.92 320.82h4M61.55 324.9h4M69.7 324.9h4M77.85 324.9h4" stroke="#000" stroke-width="1.5" fill="none"/>
<rect x="61.8" y="319.55" width="20.65" height="5.35" fill="none" stroke="#161616" stroke-width="1.1"/>
<path d="M100.5 263.75V258.75M93.25 258.75H106.75" stroke="#161616" stroke-width="1.3" fill="none"/>
<rect x="89.5" y="263.75" width="19.75" height="61.15" fill="#fff"/>
<path clip-path="url(#c14)" d="M88.5 249.15L110.25 227.4M88.5 257.3L110.25 235.55M88.5 265.45L110.25 243.7M88.5 273.6L110.25 251.85M88.5 281.75L110.25 260M88.5 289.9L110.25 268.15M88.5 298.05L110.25 276.3M88.5 306.2L110.25 284.45M88.5 314.35L110.25 292.6M88.5 322.5L110.25 300.75M88.5 330.65L110.25 308.9M88.5 338.8L110.25 317.05M88.5 346.95L110.25 325.2M88.5 355.1L110.25 333.35" stroke="#4a4a4a" stroke-width="1.3" fill="none"/>
<rect x="90.05" y="264.3" width="18.65" height="60.6" fill="none" stroke="#161616" stroke-width="1.1"/>
<path d="M125.5 301.75V297.6M118.5 297.6H133" stroke="#161616" stroke-width="1.3" fill="none"/>
<rect x="115" y="301.75" width="20.7" height="23.85" fill="#8e8e8e"/>
<path d="M157.5 258.6V253M150 253H164.25" stroke="#161616" stroke-width="1.3" fill="none"/>
<rect x="145.9" y="258.6" width="21.1" height="66.3" fill="#fff"/>
<path clip-path="url(#c15)" d="M149.97 250.72l3.8 3.8l-3.8 3.8l-3.8 -3.8zM158.12 250.72l3.8 3.8l-3.8 3.8l-3.8 -3.8zM166.28 250.72l3.8 3.8l-3.8 3.8l-3.8 -3.8zM149.97 258.88l3.8 3.8l-3.8 3.8l-3.8 -3.8zM158.12 258.88l3.8 3.8l-3.8 3.8l-3.8 -3.8zM166.28 258.88l3.8 3.8l-3.8 3.8l-3.8 -3.8zM149.97 267.02l3.8 3.8l-3.8 3.8l-3.8 -3.8zM158.12 267.02l3.8 3.8l-3.8 3.8l-3.8 -3.8zM166.28 267.02l3.8 3.8l-3.8 3.8l-3.8 -3.8zM149.97 275.18l3.8 3.8l-3.8 3.8l-3.8 -3.8zM158.12 275.18l3.8 3.8l-3.8 3.8l-3.8 -3.8zM166.28 275.18l3.8 3.8l-3.8 3.8l-3.8 -3.8zM149.97 283.32l3.8 3.8l-3.8 3.8l-3.8 -3.8zM158.12 283.32l3.8 3.8l-3.8 3.8l-3.8 -3.8zM166.28 283.32l3.8 3.8l-3.8 3.8l-3.8 -3.8zM149.97 291.48l3.8 3.8l-3.8 3.8l-3.8 -3.8zM158.12 291.48l3.8 3.8l-3.8 3.8l-3.8 -3.8zM166.28 291.48l3.8 3.8l-3.8 3.8l-3.8 -3.8zM149.97 299.62l3.8 3.8l-3.8 3.8l-3.8 -3.8zM158.12 299.62l3.8 3.8l-3.8 3.8l-3.8 -3.8zM166.28 299.62l3.8 3.8l-3.8 3.8l-3.8 -3.8zM149.97 307.78l3.8 3.8l-3.8 3.8l-3.8 -3.8zM158.12 307.78l3.8 3.8l-3.8 3.8l-3.8 -3.8zM166.28 307.78l3.8 3.8l-3.8 3.8l-3.8 -3.8zM149.97 315.93l3.8 3.8l-3.8 3.8l-3.8 -3.8zM158.12 315.93l3.8 3.8l-3.8 3.8l-3.8 -3.8zM166.28 315.93l3.8 3.8l-3.8 3.8l-3.8 -3.8zM149.97 324.07l3.8 3.8l-3.8 3.8l-3.8 -3.8zM158.12 324.07l3.8 3.8l-3.8 3.8l-3.8 -3.8zM166.28 324.07l3.8 3.8l-3.8 3.8l-3.8 -3.8z" fill="#000"/>
<rect x="146.45" y="259.15" width="20" height="65.75" fill="none" stroke="#161616" stroke-width="1.1"/>
<path d="M184.5 260V255.5M178 255.5H192" stroke="#161616" stroke-width="1.3" fill="none"/>
<rect x="174.25" y="260" width="20.75" height="64.9" fill="#fff"/>
<path clip-path="url(#c16)" d="M174.25 260H195M174.25 264.07H195M174.25 268.15H195M174.25 272.23H195M174.25 276.3H195M174.25 280.38H195M174.25 284.45H195M174.25 288.52H195M174.25 292.6H195M174.25 296.68H195M174.25 300.75H195M174.25 304.82H195M174.25 308.9H195M174.25 312.98H195M174.25 317.05H195M174.25 321.12H195M174.25 325.2H195" stroke="#161616" stroke-width="1.25" fill="none"/>
<rect x="174.8" y="260.55" width="19.65" height="64.35" fill="none" stroke="#161616" stroke-width="1.1"/>
<path d="M212.5 259.5V255M205.75 255H219.5" stroke="#161616" stroke-width="1.3" fill="none"/>
<rect x="202.5" y="259.5" width="21.25" height="65.4" fill="#fff"/>
<path clip-path="url(#c17)" d="M206.4 258.35a1.2 1.2 0 1 0 2.4 0a1.2 1.2 0 1 0 -2.4 0zM214.55 258.35a1.2 1.2 0 1 0 2.4 0a1.2 1.2 0 1 0 -2.4 0zM222.7 258.35a1.2 1.2 0 1 0 2.4 0a1.2 1.2 0 1 0 -2.4 0zM201.3 259.5a1.2 1.2 0 1 0 2.4 0a1.2 1.2 0 1 0 -2.4 0zM205.2 261.2a1.2 1.2 0 1 0 2.4 0a1.2 1.2 0 1 0 -2.4 0zM202.4 262.6a1.2 1.2 0 1 0 2.4 0a1.2 1.2 0 1 0 -2.4 0zM207.2 263.4a1.2 1.2 0 1 0 2.4 0a1.2 1.2 0 1 0 -2.4 0zM203.3 265.4a1.2 1.2 0 1 0 2.4 0a1.2 1.2 0 1 0 -2.4 0zM206.4 266.5a1.2 1.2 0 1 0 2.4 0a1.2 1.2 0 1 0 -2.4 0zM209.45 259.5a1.2 1.2 0 1 0 2.4 0a1.2 1.2 0 1 0 -2.4 0zM213.35 261.2a1.2 1.2 0 1 0 2.4 0a1.2 1.2 0 1 0 -2.4 0zM210.55 262.6a1.2 1.2 0 1 0 2.4 0a1.2 1.2 0 1 0 -2.4 0zM215.35 263.4a1.2 1.2 0 1 0 2.4 0a1.2 1.2 0 1 0 -2.4 0zM211.45 265.4a1.2 1.2 0 1 0 2.4 0a1.2 1.2 0 1 0 -2.4 0zM214.55 266.5a1.2 1.2 0 1 0 2.4 0a1.2 1.2 0 1 0 -2.4 0zM217.6 259.5a1.2 1.2 0 1 0 2.4 0a1.2 1.2 0 1 0 -2.4 0zM221.5 261.2a1.2 1.2 0 1 0 2.4 0a1.2 1.2 0 1 0 -2.4 0zM218.7 262.6a1.2 1.2 0 1 0 2.4 0a1.2 1.2 0 1 0 -2.4 0zM223.5 263.4a1.2 1.2 0 1 0 2.4 0a1.2 1.2 0 1 0 -2.4 0zM219.6 265.4a1.2 1.2 0 1 0 2.4 0a1.2 1.2 0 1 0 -2.4 0zM222.7 266.5a1.2 1.2 0 1 0 2.4 0a1.2 1.2 0 1 0 -2.4 0zM201.3 267.65a1.2 1.2 0 1 0 2.4 0a1.2 1.2 0 1 0 -2.4 0zM205.2 269.35a1.2 1.2 0 1 0 2.4 0a1.2 1.2 0 1 0 -2.4 0zM202.4 270.75a1.2 1.2 0 1 0 2.4 0a1.2 1.2 0 1 0 -2.4 0zM207.2 271.55a1.2 1.2 0 1 0 2.4 0a1.2 1.2 0 1 0 -2.4 0zM203.3 273.55a1.2 1.2 0 1 0 2.4 0a1.2 1.2 0 1 0 -2.4 0zM206.4 274.65a1.2 1.2 0 1 0 2.4 0a1.2 1.2 0 1 0 -2.4 0zM209.45 267.65a1.2 1.2 0 1 0 2.4 0a1.2 1.2 0 1 0 -2.4 0zM213.35 269.35a1.2 1.2 0 1 0 2.4 0a1.2 1.2 0 1 0 -2.4 0zM210.55 270.75a1.2 1.2 0 1 0 2.4 0a1.2 1.2 0 1 0 -2.4 0zM215.35 271.55a1.2 1.2 0 1 0 2.4 0a1.2 1.2 0 1 0 -2.4 0zM211.45 273.55a1.2 1.2 0 1 0 2.4 0a1.2 1.2 0 1 0 -2.4 0zM214.55 274.65a1.2 1.2 0 1 0 2.4 0a1.2 1.2 0 1 0 -2.4 0zM217.6 267.65a1.2 1.2 0 1 0 2.4 0a1.2 1.2 0 1 0 -2.4 0zM221.5 269.35a1.2 1.2 0 1 0 2.4 0a1.2 1.2 0 1 0 -2.4 0zM218.7 270.75a1.2 1.2 0 1 0 2.4 0a1.2 1.2 0 1 0 -2.4 0zM223.5 271.55a1.2 1.2 0 1 0 2.4 0a1.2 1.2 0 1 0 -2.4 0zM219.6 273.55a1.2 1.2 0 1 0 2.4 0a1.2 1.2 0 1 0 -2.4 0zM222.7 274.65a1.2 1.2 0 1 0 2.4 0a1.2 1.2 0 1 0 -2.4 0zM201.3 275.8a1.2 1.2 0 1 0 2.4 0a1.2 1.2 0 1 0 -2.4 0zM205.2 277.5a1.2 1.2 0 1 0 2.4 0a1.2 1.2 0 1 0 -2.4 0zM202.4 278.9a1.2 1.2 0 1 0 2.4 0a1.2 1.2 0 1 0 -2.4 0zM207.2 279.7a1.2 1.2 0 1 0 2.4 0a1.2 1.2 0 1 0 -2.4 0zM203.3 281.7a1.2 1.2 0 1 0 2.4 0a1.2 1.2 0 1 0 -2.4 0zM206.4 282.8a1.2 1.2 0 1 0 2.4 0a1.2 1.2 0 1 0 -2.4 0zM209.45 275.8a1.2 1.2 0 1 0 2.4 0a1.2 1.2 0 1 0 -2.4 0zM213.35 277.5a1.2 1.2 0 1 0 2.4 0a1.2 1.2 0 1 0 -2.4 0zM210.55 278.9a1.2 1.2 0 1 0 2.4 0a1.2 1.2 0 1 0 -2.4 0zM215.35 279.7a1.2 1.2 0 1 0 2.4 0a1.2 1.2 0 1 0 -2.4 0zM211.45 281.7a1.2 1.2 0 1 0 2.4 0a1.2 1.2 0 1 0 -2.4 0zM214.55 282.8a1.2 1.2 0 1 0 2.4 0a1.2 1.2 0 1 0 -2.4 0zM217.6 275.8a1.2 1.2 0 1 0 2.4 0a1.2 1.2 0 1 0 -2.4 0zM221.5 277.5a1.2 1.2 0 1 0 2.4 0a1.2 1.2 0 1 0 -2.4 0zM218.7 278.9a1.2 1.2 0 1 0 2.4 0a1.2 1.2 0 1 0 -2.4 0zM223.5 279.7a1.2 1.2 0 1 0 2.4 0a1.2 1.2 0 1 0 -2.4 0zM219.6 281.7a1.2 1.2 0 1 0 2.4 0a1.2 1.2 0 1 0 -2.4 0zM222.7 282.8a1.2 1.2 0 1 0 2.4 0a1.2 1.2 0 1 0 -2.4 0zM201.3 283.95a1.2 1.2 0 1 0 2.4 0a1.2 1.2 0 1 0 -2.4 0zM205.2 285.65a1.2 1.2 0 1 0 2.4 0a1.2 1.2 0 1 0 -2.4 0zM202.4 287.05a1.2 1.2 0 1 0 2.4 0a1.2 1.2 0 1 0 -2.4 0zM207.2 287.85a1.2 1.2 0 1 0 2.4 0a1.2 1.2 0 1 0 -2.4 0zM203.3 289.85a1.2 1.2 0 1 0 2.4 0a1.2 1.2 0 1 0 -2.4 0zM206.4 290.95a1.2 1.2 0 1 0 2.4 0a1.2 1.2 0 1 0 -2.4 0zM209.45 283.95a1.2 1.2 0 1 0 2.4 0a1.2 1.2 0 1 0 -2.4 0zM213.35 285.65a1.2 1.2 0 1 0 2.4 0a1.2 1.2 0 1 0 -2.4 0zM210.55 287.05a1.2 1.2 0 1 0 2.4 0a1.2 1.2 0 1 0 -2.4 0zM215.35 287.85a1.2 1.2 0 1 0 2.4 0a1.2 1.2 0 1 0 -2.4 0zM211.45 289.85a1.2 1.2 0 1 0 2.4 0a1.2 1.2 0 1 0 -2.4 0zM214.55 290.95a1.2 1.2 0 1 0 2.4 0a1.2 1.2 0 1 0 -2.4 0zM217.6 283.95a1.2 1.2 0 1 0 2.4 0a1.2 1.2 0 1 0 -2.4 0zM221.5 285.65a1.2 1.2 0 1 0 2.4 0a1.2 1.2 0 1 0 -2.4 0zM218.7 287.05a1.2 1.2 0 1 0 2.4 0a1.2 1.2 0 1 0 -2.4 0zM223.5 287.85a1.2 1.2 0 1 0 2.4 0a1.2 1.2 0 1 0 -2.4 0zM219.6 289.85a1.2 1.2 0 1 0 2.4 0a1.2 1.2 0 1 0 -2.4 0zM222.7 290.95a1.2 1.2 0 1 0 2.4 0a1.2 1.2 0 1 0 -2.4 0zM201.3 292.1a1.2 1.2 0 1 0 2.4 0a1.2 1.2 0 1 0 -2.4 0zM205.2 293.8a1.2 1.2 0 1 0 2.4 0a1.2 1.2 0 1 0 -2.4 0zM202.4 295.2a1.2 1.2 0 1 0 2.4 0a1.2 1.2 0 1 0 -2.4 0zM207.2 296a1.2 1.2 0 1 0 2.4 0a1.2 1.2 0 1 0 -2.4 0zM203.3 298a1.2 1.2 0 1 0 2.4 0a1.2 1.2 0 1 0 -2.4 0zM206.4 299.1a1.2 1.2 0 1 0 2.4 0a1.2 1.2 0 1 0 -2.4 0zM209.45 292.1a1.2 1.2 0 1 0 2.4 0a1.2 1.2 0 1 0 -2.4 0zM213.35 293.8a1.2 1.2 0 1 0 2.4 0a1.2 1.2 0 1 0 -2.4 0zM210.55 295.2a1.2 1.2 0 1 0 2.4 0a1.2 1.2 0 1 0 -2.4 0zM215.35 296a1.2 1.2 0 1 0 2.4 0a1.2 1.2 0 1 0 -2.4 0zM211.45 298a1.2 1.2 0 1 0 2.4 0a1.2 1.2 0 1 0 -2.4 0zM214.55 299.1a1.2 1.2 0 1 0 2.4 0a1.2 1.2 0 1 0 -2.4 0zM217.6 292.1a1.2 1.2 0 1 0 2.4 0a1.2 1.2 0 1 0 -2.4 0zM221.5 293.8a1.2 1.2 0 1 0 2.4 0a1.2 1.2 0 1 0 -2.4 0zM218.7 295.2a1.2 1.2 0 1 0 2.4 0a1.2 1.2 0 1 0 -2.4 0zM223.5 296a1.2 1.2 0 1 0 2.4 0a1.2 1.2 0 1 0 -2.4 0zM219.6 298a1.2 1.2 0 1 0 2.4 0a1.2 1.2 0 1 0 -2.4 0zM222.7 299.1a1.2 1.2 0 1 0 2.4 0a1.2 1.2 0 1 0 -2.4 0zM201.3 300.25a1.2 1.2 0 1 0 2.4 0a1.2 1.2 0 1 0 -2.4 0zM205.2 301.95a1.2 1.2 0 1 0 2.4 0a1.2 1.2 0 1 0 -2.4 0zM202.4 303.35a1.2 1.2 0 1 0 2.4 0a1.2 1.2 0 1 0 -2.4 0zM207.2 304.15a1.2 1.2 0 1 0 2.4 0a1.2 1.2 0 1 0 -2.4 0zM203.3 306.15a1.2 1.2 0 1 0 2.4 0a1.2 1.2 0 1 0 -2.4 0zM206.4 307.25a1.2 1.2 0 1 0 2.4 0a1.2 1.2 0 1 0 -2.4 0zM209.45 300.25a1.2 1.2 0 1 0 2.4 0a1.2 1.2 0 1 0 -2.4 0zM213.35 301.95a1.2 1.2 0 1 0 2.4 0a1.2 1.2 0 1 0 -2.4 0zM210.55 303.35a1.2 1.2 0 1 0 2.4 0a1.2 1.2 0 1 0 -2.4 0zM215.35 304.15a1.2 1.2 0 1 0 2.4 0a1.2 1.2 0 1 0 -2.4 0zM211.45 306.15a1.2 1.2 0 1 0 2.4 0a1.2 1.2 0 1 0 -2.4 0zM214.55 307.25a1.2 1.2 0 1 0 2.4 0a1.2 1.2 0 1 0 -2.4 0zM217.6 300.25a1.2 1.2 0 1 0 2.4 0a1.2 1.2 0 1 0 -2.4 0zM221.5 301.95a1.2 1.2 0 1 0 2.4 0a1.2 1.2 0 1 0 -2.4 0zM218.7 303.35a1.2 1.2 0 1 0 2.4 0a1.2 1.2 0 1 0 -2.4 0zM223.5 304.15a1.2 1.2 0 1 0 2.4 0a1.2 1.2 0 1 0 -2.4 0zM219.6 306.15a1.2 1.2 0 1 0 2.4 0a1.2 1.2 0 1 0 -2.4 0zM222.7 307.25a1.2 1.2 0 1 0 2.4 0a1.2 1.2 0 1 0 -2.4 0zM201.3 308.4a1.2 1.2 0 1 0 2.4 0a1.2 1.2 0 1 0 -2.4 0zM205.2 310.1a1.2 1.2 0 1 0 2.4 0a1.2 1.2 0 1 0 -2.4 0zM202.4 311.5a1.2 1.2 0 1 0 2.4 0a1.2 1.2 0 1 0 -2.4 0zM207.2 312.3a1.2 1.2 0 1 0 2.4 0a1.2 1.2 0 1 0 -2.4 0zM203.3 314.3a1.2 1.2 0 1 0 2.4 0a1.2 1.2 0 1 0 -2.4 0zM206.4 315.4a1.2 1.2 0 1 0 2.4 0a1.2 1.2 0 1 0 -2.4 0zM209.45 308.4a1.2 1.2 0 1 0 2.4 0a1.2 1.2 0 1 0 -2.4 0zM213.35 310.1a1.2 1.2 0 1 0 2.4 0a1.2 1.2 0 1 0 -2.4 0zM210.55 311.5a1.2 1.2 0 1 0 2.4 0a1.2 1.2 0 1 0 -2.4 0zM215.35 312.3a1.2 1.2 0 1 0 2.4 0a1.2 1.2 0 1 0 -2.4 0zM211.45 314.3a1.2 1.2 0 1 0 2.4 0a1.2 1.2 0 1 0 -2.4 0zM214.55 315.4a1.2 1.2 0 1 0 2.4 0a1.2 1.2 0 1 0 -2.4 0zM217.6 308.4a1.2 1.2 0 1 0 2.4 0a1.2 1.2 0 1 0 -2.4 0zM221.5 310.1a1.2 1.2 0 1 0 2.4 0a1.2 1.2 0 1 0 -2.4 0zM218.7 311.5a1.2 1.2 0 1 0 2.4 0a1.2 1.2 0 1 0 -2.4 0zM223.5 312.3a1.2 1.2 0 1 0 2.4 0a1.2 1.2 0 1 0 -2.4 0zM219.6 314.3a1.2 1.2 0 1 0 2.4 0a1.2 1.2 0 1 0 -2.4 0zM222.7 315.4a1.2 1.2 0 1 0 2.4 0a1.2 1.2 0 1 0 -2.4 0zM201.3 316.55a1.2 1.2 0 1 0 2.4 0a1.2 1.2 0 1 0 -2.4 0zM205.2 318.25a1.2 1.2 0 1 0 2.4 0a1.2 1.2 0 1 0 -2.4 0zM202.4 319.65a1.2 1.2 0 1 0 2.4 0a1.2 1.2 0 1 0 -2.4 0zM207.2 320.45a1.2 1.2 0 1 0 2.4 0a1.2 1.2 0 1 0 -2.4 0zM203.3 322.45a1.2 1.2 0 1 0 2.4 0a1.2 1.2 0 1 0 -2.4 0zM206.4 323.55a1.2 1.2 0 1 0 2.4 0a1.2 1.2 0 1 0 -2.4 0zM209.45 316.55a1.2 1.2 0 1 0 2.4 0a1.2 1.2 0 1 0 -2.4 0zM213.35 318.25a1.2 1.2 0 1 0 2.4 0a1.2 1.2 0 1 0 -2.4 0zM210.55 319.65a1.2 1.2 0 1 0 2.4 0a1.2 1.2 0 1 0 -2.4 0zM215.35 320.45a1.2 1.2 0 1 0 2.4 0a1.2 1.2 0 1 0 -2.4 0zM211.45 322.45a1.2 1.2 0 1 0 2.4 0a1.2 1.2 0 1 0 -2.4 0zM214.55 323.55a1.2 1.2 0 1 0 2.4 0a1.2 1.2 0 1 0 -2.4 0zM217.6 316.55a1.2 1.2 0 1 0 2.4 0a1.2 1.2 0 1 0 -2.4 0zM221.5 318.25a1.2 1.2 0 1 0 2.4 0a1.2 1.2 0 1 0 -2.4 0zM218.7 319.65a1.2 1.2 0 1 0 2.4 0a1.2 1.2 0 1 0 -2.4 0zM223.5 320.45a1.2 1.2 0 1 0 2.4 0a1.2 1.2 0 1 0 -2.4 0zM219.6 322.45a1.2 1.2 0 1 0 2.4 0a1.2 1.2 0 1 0 -2.4 0zM222.7 323.55a1.2 1.2 0 1 0 2.4 0a1.2 1.2 0 1 0 -2.4 0zM201.3 324.7a1.2 1.2 0 1 0 2.4 0a1.2 1.2 0 1 0 -2.4 0zM209.45 324.7a1.2 1.2 0 1 0 2.4 0a1.2 1.2 0 1 0 -2.4 0zM217.6 324.7a1.2 1.2 0 1 0 2.4 0a1.2 1.2 0 1 0 -2.4 0z" fill="#000"/>
<rect x="203.05" y="260.05" width="20.15" height="64.85" fill="none" stroke="#161616" stroke-width="1.1"/>
<path d="M240.5 266.5V261.75M234.5 261.75H247.5" stroke="#161616" stroke-width="1.3" fill="none"/>
<rect x="230.75" y="266.5" width="20" height="58.4" fill="#fff"/>
<path clip-path="url(#c18)" d="M229.75 259.35L251.75 237.35M229.75 267.5L251.75 245.5M229.75 275.65L251.75 253.65M229.75 283.8L251.75 261.8M229.75 291.95L251.75 269.95M229.75 300.1L251.75 278.1M229.75 308.25L251.75 286.25M229.75 316.4L251.75 294.4M229.75 324.55L251.75 302.55M229.75 332.7L251.75 310.7M229.75 340.85L251.75 318.85M229.75 349L251.75 327M229.75 357.15L251.75 335.15M234.82 262.43l4.08 4.08M242.97 262.43l4.08 4.08M234.82 270.57l4.08 4.08M242.97 270.57l4.08 4.08M234.82 278.72l4.08 4.08M242.97 278.72l4.08 4.08M234.82 286.88l4.08 4.08M242.97 286.88l4.08 4.08M234.82 295.02l4.08 4.08M242.97 295.02l4.08 4.08M234.82 303.18l4.08 4.08M242.97 303.18l4.08 4.08M234.82 311.32l4.08 4.08M242.97 311.32l4.08 4.08M234.82 319.48l4.08 4.08M242.97 319.48l4.08 4.08" stroke="#161616" stroke-width="1.15" fill="none"/>
<rect x="231.3" y="267.05" width="18.9" height="57.85" fill="none" stroke="#161616" stroke-width="1.1"/>
<text x="44.1" y="252.5" font-size="9.5" style="stroke-width:0.18px">Donor #3</text>
<text x="44.1" y="263.8" font-size="9.5" style="stroke-width:0.18px">% killing</text>
</g>
<g id="panelD">
<text x="267.7" y="223.7" font-size="16.8" font-weight="bold" style="stroke-width:0.45px">D</text>
<path d="M292.5 235.2V322.1" stroke="#161616" stroke-width="1.2" fill="none"/>
<path d="M287.3 322.1H517.7" stroke="#161616" stroke-width="1.3" fill="none"/>
<path d="M287.3 313.46H297.8M287.3 304.82H297.8M287.3 296.18H297.8M287.3 287.54H297.8M287.3 278.9H297.8M287.3 270.26H297.8M287.3 261.62H297.8M287.3 252.98H297.8M287.3 244.34H297.8M287.3 235.7H297.8" stroke="#161616" stroke-width="1.1" fill="none"/>
<text x="280.1" y="324.35" font-size="9.2" letter-spacing="-0.75" text-anchor="end">0</text>
<text x="280.1" y="315.71" font-size="9.2" letter-spacing="-0.75" text-anchor="end">10</text>
<text x="280.1" y="307.07" font-size="9.2" letter-spacing="-0.75" text-anchor="end">20</text>
<text x="280.1" y="298.43" font-size="9.2" letter-spacing="-0.75" text-anchor="end">30</text>
<text x="280.1" y="289.79" font-size="9.2" letter-spacing="-0.75" text-anchor="end">40</text>
<text x="280.1" y="281.15" font-size="9.2" letter-spacing="-0.75" text-anchor="end">50</text>
<text x="280.1" y="272.51" font-size="9.2" letter-spacing="-0.75" text-anchor="end">60</text>
<text x="280.1" y="263.87" font-size="9.2" letter-spacing="-0.75" text-anchor="end">70</text>
<text x="280.1" y="255.23" font-size="9.2" letter-spacing="-0.75" text-anchor="end">80</text>
<text x="280.1" y="246.59" font-size="9.2" letter-spacing="-0.75" text-anchor="end">90</text>
<text x="280.1" y="237.95" font-size="9.2" letter-spacing="-0.75" text-anchor="end">100</text>
<path d="M312.5 309.25V304M304.5 304H320" stroke="#161616" stroke-width="1.3" fill="none"/>
<rect x="301.75" y="309.25" width="20.25" height="12.85" fill="#fff"/>
<rect x="302.15" y="309.65" width="19.45" height="12.45" fill="none" stroke="#7a7a7a" stroke-width="0.8"/>
<path d="M338.5 314V309.75M331.25 309.75H346.25" stroke="#161616" stroke-width="1.3" fill="none"/>
<rect x="328" y="314" width="21.5" height="8.1" fill="#fff"/>
<path clip-path="url(#c19)" d="M328.3 313.95h4M336.45 313.95h4M344.6 313.95h4M324.23 318.03h4M332.38 318.03h4M340.52 318.03h4M348.68 318.03h4M328.3 322.1h4M336.45 322.1h4M344.6 322.1h4" stroke="#000" stroke-width="1.5" fill="none"/>
<rect x="328.55" y="314.55" width="20.4" height="7.55" fill="none" stroke="#161616" stroke-width="1.1"/>
<path d="M366.5 263.75V258.75M360 258.75H373.25" stroke="#161616" stroke-width="1.3" fill="none"/>
<rect x="356.25" y="263.75" width="19.5" height="58.35" fill="#fff"/>
<path clip-path="url(#c20)" d="M355.25 249.05L376.75 227.55M355.25 257.2L376.75 235.7M355.25 265.35L376.75 243.85M355.25 273.5L376.75 252M355.25 281.65L376.75 260.15M355.25 289.8L376.75 268.3M355.25 297.95L376.75 276.45M355.25 306.1L376.75 284.6M355.25 314.25L376.75 292.75M355.25 322.4L376.75 300.9M355.25 330.55L376.75 309.05M355.25 338.7L376.75 317.2M355.25 346.85L376.75 325.35M355.25 355L376.75 333.5" stroke="#4a4a4a" stroke-width="1.3" fill="none"/>
<rect x="356.8" y="264.3" width="18.4" height="57.8" fill="none" stroke="#161616" stroke-width="1.1"/>
<path d="M392.5 299.25V294.75M385 294.75H400" stroke="#161616" stroke-width="1.3" fill="none"/>
<rect x="381.75" y="299.25" width="20.75" height="23.55" fill="#8e8e8e"/>
<path d="M424.5 259.5V253.75M417 253.75H431.25" stroke="#161616" stroke-width="1.3" fill="none"/>
<rect x="412.5" y="259.5" width="21.25" height="62.6" fill="#fff"/>
<path clip-path="url(#c21)" d="M408.43 251.62l3.8 3.8l-3.8 3.8l-3.8 -3.8zM416.57 251.62l3.8 3.8l-3.8 3.8l-3.8 -3.8zM424.72 251.62l3.8 3.8l-3.8 3.8l-3.8 -3.8zM432.88 251.62l3.8 3.8l-3.8 3.8l-3.8 -3.8zM408.43 259.77l3.8 3.8l-3.8 3.8l-3.8 -3.8zM416.57 259.77l3.8 3.8l-3.8 3.8l-3.8 -3.8zM424.72 259.77l3.8 3.8l-3.8 3.8l-3.8 -3.8zM432.88 259.77l3.8 3.8l-3.8 3.8l-3.8 -3.8zM408.43 267.92l3.8 3.8l-3.8 3.8l-3.8 -3.8zM416.57 267.92l3.8 3.8l-3.8 3.8l-3.8 -3.8zM424.72 267.92l3.8 3.8l-3.8 3.8l-3.8 -3.8zM432.88 267.92l3.8 3.8l-3.8 3.8l-3.8 -3.8zM408.43 276.07l3.8 3.8l-3.8 3.8l-3.8 -3.8zM416.57 276.07l3.8 3.8l-3.8 3.8l-3.8 -3.8zM424.72 276.07l3.8 3.8l-3.8 3.8l-3.8 -3.8zM432.88 276.07l3.8 3.8l-3.8 3.8l-3.8 -3.8zM408.43 284.22l3.8 3.8l-3.8 3.8l-3.8 -3.8zM416.57 284.22l3.8 3.8l-3.8 3.8l-3.8 -3.8zM424.72 284.22l3.8 3.8l-3.8 3.8l-3.8 -3.8zM432.88 284.22l3.8 3.8l-3.8 3.8l-3.8 -3.8zM408.43 292.38l3.8 3.8l-3.8 3.8l-3.8 -3.8zM416.57 292.38l3.8 3.8l-3.8 3.8l-3.8 -3.8zM424.72 292.38l3.8 3.8l-3.8 3.8l-3.8 -3.8zM432.88 292.38l3.8 3.8l-3.8 3.8l-3.8 -3.8zM408.43 300.52l3.8 3.8l-3.8 3.8l-3.8 -3.8zM416.57 300.52l3.8 3.8l-3.8 3.8l-3.8 -3.8zM424.72 300.52l3.8 3.8l-3.8 3.8l-3.8 -3.8zM432.88 300.52l3.8 3.8l-3.8 3.8l-3.8 -3.8zM408.43 308.68l3.8 3.8l-3.8 3.8l-3.8 -3.8zM416.57 308.68l3.8 3.8l-3.8 3.8l-3.8 -3.8zM424.72 308.68l3.8 3.8l-3.8 3.8l-3.8 -3.8zM432.88 308.68l3.8 3.8l-3.8 3.8l-3.8 -3.8zM408.43 316.82l3.8 3.8l-3.8 3.8l-3.8 -3.8zM416.57 316.82l3.8 3.8l-3.8 3.8l-3.8 -3.8zM424.72 316.82l3.8 3.8l-3.8 3.8l-3.8 -3.8zM432.88 316.82l3.8 3.8l-3.8 3.8l-3.8 -3.8z" fill="#000"/>
<rect x="413.05" y="260.05" width="20.15" height="62.05" fill="none" stroke="#161616" stroke-width="1.1"/>
<path d="M451.5 257.5V252.5M445 252.5H458.75" stroke="#161616" stroke-width="1.3" fill="none"/>
<rect x="440.75" y="257.5" width="21" height="64.6" fill="#fff"/>
<path clip-path="url(#c22)" d="M440.75 257.5H461.75M440.75 261.57H461.75M440.75 265.65H461.75M440.75 269.73H461.75M440.75 273.8H461.75M440.75 277.88H461.75M440.75 281.95H461.75M440.75 286.02H461.75M440.75 290.1H461.75M440.75 294.18H461.75M440.75 298.25H461.75M440.75 302.32H461.75M440.75 306.4H461.75M440.75 310.48H461.75M440.75 314.55H461.75M440.75 318.62H461.75M440.75 322.7H461.75" stroke="#161616" stroke-width="1.25" fill="none"/>
<rect x="441.3" y="258.05" width="19.9" height="64.05" fill="none" stroke="#161616" stroke-width="1.1"/>
<path d="M479.5 260V255.75M472.5 255.75H486.25" stroke="#161616" stroke-width="1.3" fill="none"/>
<rect x="469" y="260" width="21.5" height="62.1" fill="#fff"/>
<path clip-path="url(#c23)" d="M472.9 258.85a1.2 1.2 0 1 0 2.4 0a1.2 1.2 0 1 0 -2.4 0zM481.05 258.85a1.2 1.2 0 1 0 2.4 0a1.2 1.2 0 1 0 -2.4 0zM489.2 258.85a1.2 1.2 0 1 0 2.4 0a1.2 1.2 0 1 0 -2.4 0zM467.8 260a1.2 1.2 0 1 0 2.4 0a1.2 1.2 0 1 0 -2.4 0zM471.7 261.7a1.2 1.2 0 1 0 2.4 0a1.2 1.2 0 1 0 -2.4 0zM468.9 263.1a1.2 1.2 0 1 0 2.4 0a1.2 1.2 0 1 0 -2.4 0zM473.7 263.9a1.2 1.2 0 1 0 2.4 0a1.2 1.2 0 1 0 -2.4 0zM469.8 265.9a1.2 1.2 0 1 0 2.4 0a1.2 1.2 0 1 0 -2.4 0zM472.9 267a1.2 1.2 0 1 0 2.4 0a1.2 1.2 0 1 0 -2.4 0zM475.95 260a1.2 1.2 0 1 0 2.4 0a1.2 1.2 0 1 0 -2.4 0zM479.85 261.7a1.2 1.2 0 1 0 2.4 0a1.2 1.2 0 1 0 -2.4 0zM477.05 263.1a1.2 1.2 0 1 0 2.4 0a1.2 1.2 0 1 0 -2.4 0zM481.85 263.9a1.2 1.2 0 1 0 2.4 0a1.2 1.2 0 1 0 -2.4 0zM477.95 265.9a1.2 1.2 0 1 0 2.4 0a1.2 1.2 0 1 0 -2.4 0zM481.05 267a1.2 1.2 0 1 0 2.4 0a1.2 1.2 0 1 0 -2.4 0zM484.1 260a1.2 1.2 0 1 0 2.4 0a1.2 1.2 0 1 0 -2.4 0zM488 261.7a1.2 1.2 0 1 0 2.4 0a1.2 1.2 0 1 0 -2.4 0zM485.2 263.1a1.2 1.2 0 1 0 2.4 0a1.2 1.2 0 1 0 -2.4 0zM490 263.9a1.2 1.2 0 1 0 2.4 0a1.2 1.2 0 1 0 -2.4 0zM486.1 265.9a1.2 1.2 0 1 0 2.4 0a1.2 1.2 0 1 0 -2.4 0zM489.2 267a1.2 1.2 0 1 0 2.4 0a1.2 1.2 0 1 0 -2.4 0zM467.8 268.15a1.2 1.2 0 1 0 2.4 0a1.2 1.2 0 1 0 -2.4 0zM471.7 269.85a1.2 1.2 0 1 0 2.4 0a1.2 1.2 0 1 0 -2.4 0zM468.9 271.25a1.2 1.2 0 1 0 2.4 0a1.2 1.2 0 1 0 -2.4 0zM473.7 272.05a1.2 1.2 0 1 0 2.4 0a1.2 1.2 0 1 0 -2.4 0zM469.8 274.05a1.2 1.2 0 1 0 2.4 0a1.2 1.2 0 1 0 -2.4 0zM472.9 275.15a1.2 1.2 0 1 0 2.4 0a1.2 1.2 0 1 0 -2.4 0zM475.95 268.15a1.2 1.2 0 1 0 2.4 0a1.2 1.2 0 1 0 -2.4 0zM479.85 269.85a1.2 1.2 0 1 0 2.4 0a1.2 1.2 0 1 0 -2.4 0zM477.05 271.25a1.2 1.2 0 1 0 2.4 0a1.2 1.2 0 1 0 -2.4 0zM481.85 272.05a1.2 1.2 0 1 0 2.4 0a1.2 1.2 0 1 0 -2.4 0zM477.95 274.05a1.2 1.2 0 1 0 2.4 0a1.2 1.2 0 1 0 -2.4 0zM481.05 275.15a1.2 1.2 0 1 0 2.4 0a1.2 1.2 0 1 0 -2.4 0zM484.1 268.15a1.2 1.2 0 1 0 2.4 0a1.2 1.2 0 1 0 -2.4 0zM488 269.85a1.2 1.2 0 1 0 2.4 0a1.2 1.2 0 1 0 -2.4 0zM485.2 271.25a1.2 1.2 0 1 0 2.4 0a1.2 1.2 0 1 0 -2.4 0zM490 272.05a1.2 1.2 0 1 0 2.4 0a1.2 1.2 0 1 0 -2.4 0zM486.1 274.05a1.2 1.2 0 1 0 2.4 0a1.2 1.2 0 1 0 -2.4 0zM489.2 275.15a1.2 1.2 0 1 0 2.4 0a1.2 1.2 0 1 0 -2.4 0zM467.8 276.3a1.2 1.2 0 1 0 2.4 0a1.2 1.2 0 1 0 -2.4 0zM471.7 278a1.2 1.2 0 1 0 2.4 0a1.2 1.2 0 1 0 -2.4 0zM468.9 279.4a1.2 1.2 0 1 0 2.4 0a1.2 1.2 0 1 0 -2.4 0zM473.7 280.2a1.2 1.2 0 1 0 2.4 0a1.2 1.2 0 1 0 -2.4 0zM469.8 282.2a1.2 1.2 0 1 0 2.4 0a1.2 1.2 0 1 0 -2.4 0zM472.9 283.3a1.2 1.2 0 1 0 2.4 0a1.2 1.2 0 1 0 -2.4 0zM475.95 276.3a1.2 1.2 0 1 0 2.4 0a1.2 1.2 0 1 0 -2.4 0zM479.85 278a1.2 1.2 0 1 0 2.4 0a1.2 1.2 0 1 0 -2.4 0zM477.05 279.4a1.2 1.2 0 1 0 2.4 0a1.2 1.2 0 1 0 -2.4 0zM481.85 280.2a1.2 1.2 0 1 0 2.4 0a1.2 1.2 0 1 0 -2.4 0zM477.95 282.2a1.2 1.2 0 1 0 2.4 0a1.2 1.2 0 1 0 -2.4 0zM481.05 283.3a1.2 1.2 0 1 0 2.4 0a1.2 1.2 0 1 0 -2.4 0zM484.1 276.3a1.2 1.2 0 1 0 2.4 0a1.2 1.2 0 1 0 -2.4 0zM488 278a1.2 1.2 0 1 0 2.4 0a1.2 1.2 0 1 0 -2.4 0zM485.2 279.4a1.2 1.2 0 1 0 2.4 0a1.2 1.2 0 1 0 -2.4 0zM490 280.2a1.2 1.2 0 1 0 2.4 0a1.2 1.2 0 1 0 -2.4 0zM486.1 282.2a1.2 1.2 0 1 0 2.4 0a1.2 1.2 0 1 0 -2.4 0zM489.2 283.3a1.2 1.2 0 1 0 2.4 0a1.2 1.2 0 1 0 -2.4 0zM467.8 284.45a1.2 1.2 0 1 0 2.4 0a1.2 1.2 0 1 0 -2.4 0zM471.7 286.15a1.2 1.2 0 1 0 2.4 0a1.2 1.2 0 1 0 -2.4 0zM468.9 287.55a1.2 1.2 0 1 0 2.4 0a1.2 1.2 0 1 0 -2.4 0zM473.7 288.35a1.2 1.2 0 1 0 2.4 0a1.2 1.2 0 1 0 -2.4 0zM469.8 290.35a1.2 1.2 0 1 0 2.4 0a1.2 1.2 0 1 0 -2.4 0zM472.9 291.45a1.2 1.2 0 1 0 2.4 0a1.2 1.2 0 1 0 -2.4 0zM475.95 284.45a1.2 1.2 0 1 0 2.4 0a1.2 1.2 0 1 0 -2.4 0zM479.85 286.15a1.2 1.2 0 1 0 2.4 0a1.2 1.2 0 1 0 -2.4 0zM477.05 287.55a1.2 1.2 0 1 0 2.4 0a1.2 1.2 0 1 0 -2.4 0zM481.85 288.35a1.2 1.2 0 1 0 2.4 0a1.2 1.2 0 1 0 -2.4 0zM477.95 290.35a1.2 1.2 0 1 0 2.4 0a1.2 1.2 0 1 0 -2.4 0zM481.05 291.45a1.2 1.2 0 1 0 2.4 0a1.2 1.2 0 1 0 -2.4 0zM484.1 284.45a1.2 1.2 0 1 0 2.4 0a1.2 1.2 0 1 0 -2.4 0zM488 286.15a1.2 1.2 0 1 0 2.4 0a1.2 1.2 0 1 0 -2.4 0zM485.2 287.55a1.2 1.2 0 1 0 2.4 0a1.2 1.2 0 1 0 -2.4 0zM490 288.35a1.2 1.2 0 1 0 2.4 0a1.2 1.2 0 1 0 -2.4 0zM486.1 290.35a1.2 1.2 0 1 0 2.4 0a1.2 1.2 0 1 0 -2.4 0zM489.2 291.45a1.2 1.2 0 1 0 2.4 0a1.2 1.2 0 1 0 -2.4 0zM467.8 292.6a1.2 1.2 0 1 0 2.4 0a1.2 1.2 0 1 0 -2.4 0zM471.7 294.3a1.2 1.2 0 1 0 2.4 0a1.2 1.2 0 1 0 -2.4 0zM468.9 295.7a1.2 1.2 0 1 0 2.4 0a1.2 1.2 0 1 0 -2.4 0zM473.7 296.5a1.2 1.2 0 1 0 2.4 0a1.2 1.2 0 1 0 -2.4 0zM469.8 298.5a1.2 1.2 0 1 0 2.4 0a1.2 1.2 0 1 0 -2.4 0zM472.9 299.6a1.2 1.2 0 1 0 2.4 0a1.2 1.2 0 1 0 -2.4 0zM475.95 292.6a1.2 1.2 0 1 0 2.4 0a1.2 1.2 0 1 0 -2.4 0zM479.85 294.3a1.2 1.2 0 1 0 2.4 0a1.2 1.2 0 1 0 -2.4 0zM477.05 295.7a1.2 1.2 0 1 0 2.4 0a1.2 1.2 0 1 0 -2.4 0zM481.85 296.5a1.2 1.2 0 1 0 2.4 0a1.2 1.2 0 1 0 -2.4 0zM477.95 298.5a1.2 1.2 0 1 0 2.4 0a1.2 1.2 0 1 0 -2.4 0zM481.05 299.6a1.2 1.2 0 1 0 2.4 0a1.2 1.2 0 1 0 -2.4 0zM484.1 292.6a1.2 1.2 0 1 0 2.4 0a1.2 1.2 0 1 0 -2.4 0zM488 294.3a1.2 1.2 0 1 0 2.4 0a1.2 1.2 0 1 0 -2.4 0zM485.2 295.7a1.2 1.2 0 1 0 2.4 0a1.2 1.2 0 1 0 -2.4 0zM490 296.5a1.2 1.2 0 1 0 2.4 0a1.2 1.2 0 1 0 -2.4 0zM486.1 298.5a1.2 1.2 0 1 0 2.4 0a1.2 1.2 0 1 0 -2.4 0zM489.2 299.6a1.2 1.2 0 1 0 2.4 0a1.2 1.2 0 1 0 -2.4 0zM467.8 300.75a1.2 1.2 0 1 0 2.4 0a1.2 1.2 0 1 0 -2.4 0zM471.7 302.45a1.2 1.2 0 1 0 2.4 0a1.2 1.2 0 1 0 -2.4 0zM468.9 303.85a1.2 1.2 0 1 0 2.4 0a1.2 1.2 0 1 0 -2.4 0zM473.7 304.65a1.2 1.2 0 1 0 2.4 0a1.2 1.2 0 1 0 -2.4 0zM469.8 306.65a1.2 1.2 0 1 0 2.4 0a1.2 1.2 0 1 0 -2.4 0zM472.9 307.75a1.2 1.2 0 1 0 2.4 0a1.2 1.2 0 1 0 -2.4 0zM475.95 300.75a1.2 1.2 0 1 0 2.4 0a1.2 1.2 0 1 0 -2.4 0zM479.85 302.45a1.2 1.2 0 1 0 2.4 0a1.2 1.2 0 1 0 -2.4 0zM477.05 303.85a1.2 1.2 0 1 0 2.4 0a1.2 1.2 0 1 0 -2.4 0zM481.85 304.65a1.2 1.2 0 1 0 2.4 0a1.2 1.2 0 1 0 -2.4 0zM477.95 306.65a1.2 1.2 0 1 0 2.4 0a1.2 1.2 0 1 0 -2.4 0zM481.05 307.75a1.2 1.2 0 1 0 2.4 0a1.2 1.2 0 1 0 -2.4 0zM484.1 300.75a1.2 1.2 0 1 0 2.4 0a1.2 1.2 0 1 0 -2.4 0zM488 302.45a1.2 1.2 0 1 0 2.4 0a1.2 1.2 0 1 0 -2.4 0zM485.2 303.85a1.2 1.2 0 1 0 2.4 0a1.2 1.2 0 1 0 -2.4 0zM490 304.65a1.2 1.2 0 1 0 2.4 0a1.2 1.2 0 1 0 -2.4 0zM486.1 306.65a1.2 1.2 0 1 0 2.4 0a1.2 1.2 0 1 0 -2.4 0zM489.2 307.75a1.2 1.2 0 1 0 2.4 0a1.2 1.2 0 1 0 -2.4 0zM467.8 308.9a1.2 1.2 0 1 0 2.4 0a1.2 1.2 0 1 0 -2.4 0zM471.7 310.6a1.2 1.2 0 1 0 2.4 0a1.2 1.2 0 1 0 -2.4 0zM468.9 312a1.2 1.2 0 1 0 2.4 0a1.2 1.2 0 1 0 -2.4 0zM473.7 312.8a1.2 1.2 0 1 0 2.4 0a1.2 1.2 0 1 0 -2.4 0zM469.8 314.8a1.2 1.2 0 1 0 2.4 0a1.2 1.2 0 1 0 -2.4 0zM472.9 315.9a1.2 1.2 0 1 0 2.4 0a1.2 1.2 0 1 0 -2.4 0zM475.95 308.9a1.2 1.2 0 1 0 2.4 0a1.2 1.2 0 1 0 -2.4 0zM479.85 310.6a1.2 1.2 0 1 0 2.4 0a1.2 1.2 0 1 0 -2.4 0zM477.05 312a1.2 1.2 0 1 0 2.4 0a1.2 1.2 0 1 0 -2.4 0zM481.85 312.8a1.2 1.2 0 1 0 2.4 0a1.2 1.2 0 1 0 -2.4 0zM477.95 314.8a1.2 1.2 0 1 0 2.4 0a1.2 1.2 0 1 0 -2.4 0zM481.05 315.9a1.2 1.2 0 1 0 2.4 0a1.2 1.2 0 1 0 -2.4 0zM484.1 308.9a1.2 1.2 0 1 0 2.4 0a1.2 1.2 0 1 0 -2.4 0zM488 310.6a1.2 1.2 0 1 0 2.4 0a1.2 1.2 0 1 0 -2.4 0zM485.2 312a1.2 1.2 0 1 0 2.4 0a1.2 1.2 0 1 0 -2.4 0zM490 312.8a1.2 1.2 0 1 0 2.4 0a1.2 1.2 0 1 0 -2.4 0zM486.1 314.8a1.2 1.2 0 1 0 2.4 0a1.2 1.2 0 1 0 -2.4 0zM489.2 315.9a1.2 1.2 0 1 0 2.4 0a1.2 1.2 0 1 0 -2.4 0zM467.8 317.05a1.2 1.2 0 1 0 2.4 0a1.2 1.2 0 1 0 -2.4 0zM471.7 318.75a1.2 1.2 0 1 0 2.4 0a1.2 1.2 0 1 0 -2.4 0zM468.9 320.15a1.2 1.2 0 1 0 2.4 0a1.2 1.2 0 1 0 -2.4 0zM473.7 320.95a1.2 1.2 0 1 0 2.4 0a1.2 1.2 0 1 0 -2.4 0zM469.8 322.95a1.2 1.2 0 1 0 2.4 0a1.2 1.2 0 1 0 -2.4 0zM475.95 317.05a1.2 1.2 0 1 0 2.4 0a1.2 1.2 0 1 0 -2.4 0zM479.85 318.75a1.2 1.2 0 1 0 2.4 0a1.2 1.2 0 1 0 -2.4 0zM477.05 320.15a1.2 1.2 0 1 0 2.4 0a1.2 1.2 0 1 0 -2.4 0zM481.85 320.95a1.2 1.2 0 1 0 2.4 0a1.2 1.2 0 1 0 -2.4 0zM477.95 322.95a1.2 1.2 0 1 0 2.4 0a1.2 1.2 0 1 0 -2.4 0zM484.1 317.05a1.2 1.2 0 1 0 2.4 0a1.2 1.2 0 1 0 -2.4 0zM488 318.75a1.2 1.2 0 1 0 2.4 0a1.2 1.2 0 1 0 -2.4 0zM485.2 320.15a1.2 1.2 0 1 0 2.4 0a1.2 1.2 0 1 0 -2.4 0zM490 320.95a1.2 1.2 0 1 0 2.4 0a1.2 1.2 0 1 0 -2.4 0zM486.1 322.95a1.2 1.2 0 1 0 2.4 0a1.2 1.2 0 1 0 -2.4 0z" fill="#000"/>
<rect x="469.55" y="260.55" width="20.4" height="61.55" fill="none" stroke="#161616" stroke-width="1.1"/>
<path d="M507.5 260.75V255.5M501.25 255.5H514.25" stroke="#161616" stroke-width="1.3" fill="none"/>
<rect x="497.5" y="260.75" width="20" height="61.35" fill="#fff"/>
<path clip-path="url(#c24)" d="M496.5 253.6L518.5 231.6M496.5 261.75L518.5 239.75M496.5 269.9L518.5 247.9M496.5 278.05L518.5 256.05M496.5 286.2L518.5 264.2M496.5 294.35L518.5 272.35M496.5 302.5L518.5 280.5M496.5 310.65L518.5 288.65M496.5 318.8L518.5 296.8M496.5 326.95L518.5 304.95M496.5 335.1L518.5 313.1M496.5 343.25L518.5 321.25M496.5 351.4L518.5 329.4M493.43 256.68l4.08 4.08M501.57 256.68l4.08 4.08M509.72 256.68l4.08 4.08M493.43 264.82l4.08 4.08M501.57 264.82l4.08 4.08M509.72 264.82l4.08 4.08M493.43 272.97l4.08 4.08M501.57 272.97l4.08 4.08M509.72 272.97l4.08 4.08M493.43 281.12l4.08 4.08M501.57 281.12l4.08 4.08M509.72 281.12l4.08 4.08M493.43 289.27l4.08 4.08M501.57 289.27l4.08 4.08M509.72 289.27l4.08 4.08M493.43 297.43l4.08 4.08M501.57 297.43l4.08 4.08M509.72 297.43l4.08 4.08M493.43 305.57l4.08 4.08M501.57 305.57l4.08 4.08M509.72 305.57l4.08 4.08M493.43 313.73l4.08 4.08M501.57 313.73l4.08 4.08M509.72 313.73l4.08 4.08M493.43 321.88l4.08 4.08M501.57 321.88l4.08 4.08M509.72 321.88l4.08 4.08" stroke="#161616" stroke-width="1.15" fill="none"/>
<rect x="498.05" y="261.3" width="18.9" height="60.8" fill="none" stroke="#161616" stroke-width="1.1"/>
<text x="311.2" y="247.2" font-size="10.4" style="stroke-width:0.18px">Compilation of Donors #1-3</text>
<text x="311.2" y="259.6" font-size="10.4" style="stroke-width:0.18px">% killing</text>
</g>
<path d="M35.1 327.6C36.5 331.5 41.1 333.9 51.6 333.9H128.4C137.4 334 143.4 335.5 145.4 339.9C147.4 335.5 153.4 333.7 165.4 333.7H237.8C242.8 333.7 246.8 333 249.8 331.6" stroke="#222" stroke-width="1.1" fill="none"/>
<path d="M303 327.6C304.4 331.5 309 333.9 319.5 333.9H396.4C405.4 334 411.4 335.5 413.4 339.9C415.4 335.5 421.4 333.7 433.4 333.7H505.4C510.4 333.7 514.4 333 517.4 331.6" stroke="#222" stroke-width="1.1" fill="none"/>
<text x="94.2" y="353.2" font-size="9.5">AAV/HM1.24/Neo loaded</text>
<text x="361.9" y="353.2" font-size="9.5">AAV/HM1.24/Neo loaded</text>
<rect x="129.7" y="2.9" width="75.8" height="12.4" fill="#fff" stroke="#161616" stroke-width="1.0"/>
<path clip-path="url(#c25)" d="M130.4 21.7h4M138.55 21.7h4M146.7 21.7h4M154.85 21.7h4M163 21.7h4M171.15 21.7h4M179.3 21.7h4M187.45 21.7h4M195.6 21.7h4M203.75 21.7h4M126.32 25.77h4M134.47 25.77h4M142.62 25.77h4M150.78 25.77h4M158.93 25.77h4M167.07 25.77h4M175.22 25.77h4M183.38 25.77h4M191.53 25.77h4M199.68 25.77h4M130.4 29.85h4M138.55 29.85h4M146.7 29.85h4M154.85 29.85h4M163 29.85h4M171.15 29.85h4M179.3 29.85h4M187.45 29.85h4M195.6 29.85h4M203.75 29.85h4M126.32 33.92h4M134.47 33.92h4M142.62 33.92h4M150.78 33.92h4M158.93 33.92h4M167.07 33.92h4M175.22 33.92h4M183.38 33.92h4M191.53 33.92h4M199.68 33.92h4" stroke="#000" stroke-width="1.5" fill="none"/>
<rect x="129.65" y="21.35" width="75.9" height="11.8" fill="none" stroke="#8c8c8c" stroke-width="0.9"/>
<path clip-path="url(#c26)" d="M128.2 28.15L207 -50.65M128.2 36.3L207 -42.5M128.2 44.45L207 -34.35M128.2 52.6L207 -26.2M128.2 60.75L207 -18.05M128.2 68.9L207 -9.9M128.2 77.05L207 -1.75M128.2 85.2L207 6.4M128.2 93.35L207 14.55M128.2 101.5L207 22.7M128.2 109.65L207 30.85M128.2 117.8L207 39M128.2 125.95L207 47.15M128.2 134.1L207 55.3M128.2 142.25L207 63.45" stroke="#555" stroke-width="1.5" fill="none"/>
<rect x="129.65" y="39.95" width="75.9" height="11.2" fill="none" stroke="#8c8c8c" stroke-width="0.9"/>
<rect x="129.65" y="54.75" width="75.9" height="12.4" fill="#bcbcbc" stroke="#8a8a8a" stroke-width="0.9"/>
<path d="M129.7 54.9H205.5" stroke="#444" stroke-width="1" stroke-dasharray="1.2 0.8" fill="none"/>
<text x="213" y="15.1" font-size="8.35">autol PBMC</text>
<text x="213" y="32.7" font-size="8.3">K562</text>
<text x="213" y="49.8" font-size="8.3">ARK-B</text>
<text x="213" y="67.2" font-size="8.3">ARP-1</text>
<text x="85.8" y="49.3" font-size="10.25">targets:</text>
<path d="M242.6 37.6C244 37.9 244.5 39 244.5 41.4V49.4C244.5 51.6 245.1 52.7 246.5 53C245.1 53.3 244.5 54.4 244.5 56.6V65.8C244.5 68.2 244 69.3 242.6 69.6" stroke="#6a6a6a" stroke-width="1.1" fill="none"/>
<text x="250.6" y="57.7" font-size="10.1">MM</text>
<path clip-path="url(#c27)" d="M381.93 2.51l3.6 3.6l-3.6 3.6l-3.6 -3.6zM390.07 2.51l3.6 3.6l-3.6 3.6l-3.6 -3.6zM398.23 2.51l3.6 3.6l-3.6 3.6l-3.6 -3.6zM406.38 2.51l3.6 3.6l-3.6 3.6l-3.6 -3.6zM414.53 2.51l3.6 3.6l-3.6 3.6l-3.6 -3.6zM422.68 2.51l3.6 3.6l-3.6 3.6l-3.6 -3.6zM430.83 2.51l3.6 3.6l-3.6 3.6l-3.6 -3.6zM438.98 2.51l3.6 3.6l-3.6 3.6l-3.6 -3.6zM447.12 2.51l3.6 3.6l-3.6 3.6l-3.6 -3.6zM455.28 2.51l3.6 3.6l-3.6 3.6l-3.6 -3.6zM381.93 10.66l3.6 3.6l-3.6 3.6l-3.6 -3.6zM390.07 10.66l3.6 3.6l-3.6 3.6l-3.6 -3.6zM398.23 10.66l3.6 3.6l-3.6 3.6l-3.6 -3.6zM406.38 10.66l3.6 3.6l-3.6 3.6l-3.6 -3.6zM414.53 10.66l3.6 3.6l-3.6 3.6l-3.6 -3.6zM422.68 10.66l3.6 3.6l-3.6 3.6l-3.6 -3.6zM430.83 10.66l3.6 3.6l-3.6 3.6l-3.6 -3.6zM438.98 10.66l3.6 3.6l-3.6 3.6l-3.6 -3.6zM447.12 10.66l3.6 3.6l-3.6 3.6l-3.6 -3.6zM455.28 10.66l3.6 3.6l-3.6 3.6l-3.6 -3.6z" fill="#000"/>
<rect x="378.82" y="2.62" width="74.75" height="11.55" fill="none" stroke="#2a2a2a" stroke-width="0.85"/>
<path clip-path="url(#c28)" d="M378.4 18.75H454M378.4 22.82H454M378.4 26.9H454M378.4 30.98H454" stroke="#161616" stroke-width="1.3" fill="none"/>
<rect x="378.85" y="18.65" width="74.7" height="13" fill="none" stroke="#444" stroke-width="0.9"/>
<path clip-path="url(#c29)" d="M377.1 36.75a1.25 1.25 0 1 0 2.5 0a1.25 1.25 0 1 0 -2.5 0zM382.15 35.65a1.25 1.25 0 1 0 2.5 0a1.25 1.25 0 1 0 -2.5 0zM385.25 36.75a1.25 1.25 0 1 0 2.5 0a1.25 1.25 0 1 0 -2.5 0zM390.3 35.65a1.25 1.25 0 1 0 2.5 0a1.25 1.25 0 1 0 -2.5 0zM393.4 36.75a1.25 1.25 0 1 0 2.5 0a1.25 1.25 0 1 0 -2.5 0zM398.45 35.65a1.25 1.25 0 1 0 2.5 0a1.25 1.25 0 1 0 -2.5 0zM401.55 36.75a1.25 1.25 0 1 0 2.5 0a1.25 1.25 0 1 0 -2.5 0zM406.6 35.65a1.25 1.25 0 1 0 2.5 0a1.25 1.25 0 1 0 -2.5 0zM409.7 36.75a1.25 1.25 0 1 0 2.5 0a1.25 1.25 0 1 0 -2.5 0zM414.75 35.65a1.25 1.25 0 1 0 2.5 0a1.25 1.25 0 1 0 -2.5 0zM417.85 36.75a1.25 1.25 0 1 0 2.5 0a1.25 1.25 0 1 0 -2.5 0zM422.9 35.65a1.25 1.25 0 1 0 2.5 0a1.25 1.25 0 1 0 -2.5 0zM426 36.75a1.25 1.25 0 1 0 2.5 0a1.25 1.25 0 1 0 -2.5 0zM431.05 35.65a1.25 1.25 0 1 0 2.5 0a1.25 1.25 0 1 0 -2.5 0zM434.15 36.75a1.25 1.25 0 1 0 2.5 0a1.25 1.25 0 1 0 -2.5 0zM439.2 35.65a1.25 1.25 0 1 0 2.5 0a1.25 1.25 0 1 0 -2.5 0zM442.3 36.75a1.25 1.25 0 1 0 2.5 0a1.25 1.25 0 1 0 -2.5 0zM447.35 35.65a1.25 1.25 0 1 0 2.5 0a1.25 1.25 0 1 0 -2.5 0zM450.45 36.75a1.25 1.25 0 1 0 2.5 0a1.25 1.25 0 1 0 -2.5 0zM375.9 39.6a1.25 1.25 0 1 0 2.5 0a1.25 1.25 0 1 0 -2.5 0zM377.9 41.8a1.25 1.25 0 1 0 2.5 0a1.25 1.25 0 1 0 -2.5 0zM377.1 44.9a1.25 1.25 0 1 0 2.5 0a1.25 1.25 0 1 0 -2.5 0zM380.15 37.9a1.25 1.25 0 1 0 2.5 0a1.25 1.25 0 1 0 -2.5 0zM384.05 39.6a1.25 1.25 0 1 0 2.5 0a1.25 1.25 0 1 0 -2.5 0zM381.25 41a1.25 1.25 0 1 0 2.5 0a1.25 1.25 0 1 0 -2.5 0zM386.05 41.8a1.25 1.25 0 1 0 2.5 0a1.25 1.25 0 1 0 -2.5 0zM382.15 43.8a1.25 1.25 0 1 0 2.5 0a1.25 1.25 0 1 0 -2.5 0zM385.25 44.9a1.25 1.25 0 1 0 2.5 0a1.25 1.25 0 1 0 -2.5 0zM388.3 37.9a1.25 1.25 0 1 0 2.5 0a1.25 1.25 0 1 0 -2.5 0zM392.2 39.6a1.25 1.25 0 1 0 2.5 0a1.25 1.25 0 1 0 -2.5 0zM389.4 41a1.25 1.25 0 1 0 2.5 0a1.25 1.25 0 1 0 -2.5 0zM394.2 41.8a1.25 1.25 0 1 0 2.5 0a1.25 1.25 0 1 0 -2.5 0zM390.3 43.8a1.25 1.25 0 1 0 2.5 0a1.25 1.25 0 1 0 -2.5 0zM393.4 44.9a1.25 1.25 0 1 0 2.5 0a1.25 1.25 0 1 0 -2.5 0zM396.45 37.9a1.25 1.25 0 1 0 2.5 0a1.25 1.25 0 1 0 -2.5 0zM400.35 39.6a1.25 1.25 0 1 0 2.5 0a1.25 1.25 0 1 0 -2.5 0zM397.55 41a1.25 1.25 0 1 0 2.5 0a1.25 1.25 0 1 0 -2.5 0zM402.35 41.8a1.25 1.25 0 1 0 2.5 0a1.25 1.25 0 1 0 -2.5 0zM398.45 43.8a1.25 1.25 0 1 0 2.5 0a1.25 1.25 0 1 0 -2.5 0zM401.55 44.9a1.25 1.25 0 1 0 2.5 0a1.25 1.25 0 1 0 -2.5 0zM404.6 37.9a1.25 1.25 0 1 0 2.5 0a1.25 1.25 0 1 0 -2.5 0zM408.5 39.6a1.25 1.25 0 1 0 2.5 0a1.25 1.25 0 1 0 -2.5 0zM405.7 41a1.25 1.25 0 1 0 2.5 0a1.25 1.25 0 1 0 -2.5 0zM410.5 41.8a1.25 1.25 0 1 0 2.5 0a1.25 1.25 0 1 0 -2.5 0zM406.6 43.8a1.25 1.25 0 1 0 2.5 0a1.25 1.25 0 1 0 -2.5 0zM409.7 44.9a1.25 1.25 0 1 0 2.5 0a1.25 1.25 0 1 0 -2.5 0zM412.75 37.9a1.25 1.25 0 1 0 2.5 0a1.25 1.25 0 1 0 -2.5 0zM416.65 39.6a1.25 1.25 0 1 0 2.5 0a1.25 1.25 0 1 0 -2.5 0zM413.85 41a1.25 1.25 0 1 0 2.5 0a1.25 1.25 0 1 0 -2.5 0zM418.65 41.8a1.25 1.25 0 1 0 2.5 0a1.25 1.25 0 1 0 -2.5 0zM414.75 43.8a1.25 1.25 0 1 0 2.5 0a1.25 1.25 0 1 0 -2.5 0zM417.85 44.9a1.25 1.25 0 1 0 2.5 0a1.25 1.25 0 1 0 -2.5 0zM420.9 37.9a1.25 1.25 0 1 0 2.5 0a1.25 1.25 0 1 0 -2.5 0zM424.8 39.6a1.25 1.25 0 1 0 2.5 0a1.25 1.25 0 1 0 -2.5 0zM422 41a1.25 1.25 0 1 0 2.5 0a1.25 1.25 0 1 0 -2.5 0zM426.8 41.8a1.25 1.25 0 1 0 2.5 0a1.25 1.25 0 1 0 -2.5 0zM422.9 43.8a1.25 1.25 0 1 0 2.5 0a1.25 1.25 0 1 0 -2.5 0zM426 44.9a1.25 1.25 0 1 0 2.5 0a1.25 1.25 0 1 0 -2.5 0zM429.05 37.9a1.25 1.25 0 1 0 2.5 0a1.25 1.25 0 1 0 -2.5 0zM432.95 39.6a1.25 1.25 0 1 0 2.5 0a1.25 1.25 0 1 0 -2.5 0zM430.15 41a1.25 1.25 0 1 0 2.5 0a1.25 1.25 0 1 0 -2.5 0zM434.95 41.8a1.25 1.25 0 1 0 2.5 0a1.25 1.25 0 1 0 -2.5 0zM431.05 43.8a1.25 1.25 0 1 0 2.5 0a1.25 1.25 0 1 0 -2.5 0zM434.15 44.9a1.25 1.25 0 1 0 2.5 0a1.25 1.25 0 1 0 -2.5 0zM437.2 37.9a1.25 1.25 0 1 0 2.5 0a1.25 1.25 0 1 0 -2.5 0zM441.1 39.6a1.25 1.25 0 1 0 2.5 0a1.25 1.25 0 1 0 -2.5 0zM438.3 41a1.25 1.25 0 1 0 2.5 0a1.25 1.25 0 1 0 -2.5 0zM443.1 41.8a1.25 1.25 0 1 0 2.5 0a1.25 1.25 0 1 0 -2.5 0zM439.2 43.8a1.25 1.25 0 1 0 2.5 0a1.25 1.25 0 1 0 -2.5 0zM442.3 44.9a1.25 1.25 0 1 0 2.5 0a1.25 1.25 0 1 0 -2.5 0zM445.35 37.9a1.25 1.25 0 1 0 2.5 0a1.25 1.25 0 1 0 -2.5 0zM449.25 39.6a1.25 1.25 0 1 0 2.5 0a1.25 1.25 0 1 0 -2.5 0zM446.45 41a1.25 1.25 0 1 0 2.5 0a1.25 1.25 0 1 0 -2.5 0zM451.25 41.8a1.25 1.25 0 1 0 2.5 0a1.25 1.25 0 1 0 -2.5 0zM447.35 43.8a1.25 1.25 0 1 0 2.5 0a1.25 1.25 0 1 0 -2.5 0zM450.45 44.9a1.25 1.25 0 1 0 2.5 0a1.25 1.25 0 1 0 -2.5 0zM453.5 37.9a1.25 1.25 0 1 0 2.5 0a1.25 1.25 0 1 0 -2.5 0zM375.9 47.75a1.25 1.25 0 1 0 2.5 0a1.25 1.25 0 1 0 -2.5 0zM377.9 49.95a1.25 1.25 0 1 0 2.5 0a1.25 1.25 0 1 0 -2.5 0zM380.15 46.05a1.25 1.25 0 1 0 2.5 0a1.25 1.25 0 1 0 -2.5 0zM384.05 47.75a1.25 1.25 0 1 0 2.5 0a1.25 1.25 0 1 0 -2.5 0zM381.25 49.15a1.25 1.25 0 1 0 2.5 0a1.25 1.25 0 1 0 -2.5 0zM386.05 49.95a1.25 1.25 0 1 0 2.5 0a1.25 1.25 0 1 0 -2.5 0zM388.3 46.05a1.25 1.25 0 1 0 2.5 0a1.25 1.25 0 1 0 -2.5 0zM392.2 47.75a1.25 1.25 0 1 0 2.5 0a1.25 1.25 0 1 0 -2.5 0zM389.4 49.15a1.25 1.25 0 1 0 2.5 0a1.25 1.25 0 1 0 -2.5 0zM394.2 49.95a1.25 1.25 0 1 0 2.5 0a1.25 1.25 0 1 0 -2.5 0zM396.45 46.05a1.25 1.25 0 1 0 2.5 0a1.25 1.25 0 1 0 -2.5 0zM400.35 47.75a1.25 1.25 0 1 0 2.5 0a1.25 1.25 0 1 0 -2.5 0zM397.55 49.15a1.25 1.25 0 1 0 2.5 0a1.25 1.25 0 1 0 -2.5 0zM402.35 49.95a1.25 1.25 0 1 0 2.5 0a1.25 1.25 0 1 0 -2.5 0zM404.6 46.05a1.25 1.25 0 1 0 2.5 0a1.25 1.25 0 1 0 -2.5 0zM408.5 47.75a1.25 1.25 0 1 0 2.5 0a1.25 1.25 0 1 0 -2.5 0zM405.7 49.15a1.25 1.25 0 1 0 2.5 0a1.25 1.25 0 1 0 -2.5 0zM410.5 49.95a1.25 1.25 0 1 0 2.5 0a1.25 1.25 0 1 0 -2.5 0zM412.75 46.05a1.25 1.25 0 1 0 2.5 0a1.25 1.25 0 1 0 -2.5 0zM416.65 47.75a1.25 1.25 0 1 0 2.5 0a1.25 1.25 0 1 0 -2.5 0zM413.85 49.15a1.25 1.25 0 1 0 2.5 0a1.25 1.25 0 1 0 -2.5 0zM418.65 49.95a1.25 1.25 0 1 0 2.5 0a1.25 1.25 0 1 0 -2.5 0zM420.9 46.05a1.25 1.25 0 1 0 2.5 0a1.25 1.25 0 1 0 -2.5 0zM424.8 47.75a1.25 1.25 0 1 0 2.5 0a1.25 1.25 0 1 0 -2.5 0zM422 49.15a1.25 1.25 0 1 0 2.5 0a1.25 1.25 0 1 0 -2.5 0zM426.8 49.95a1.25 1.25 0 1 0 2.5 0a1.25 1.25 0 1 0 -2.5 0zM429.05 46.05a1.25 1.25 0 1 0 2.5 0a1.25 1.25 0 1 0 -2.5 0zM432.95 47.75a1.25 1.25 0 1 0 2.5 0a1.25 1.25 0 1 0 -2.5 0zM430.15 49.15a1.25 1.25 0 1 0 2.5 0a1.25 1.25 0 1 0 -2.5 0zM434.95 49.95a1.25 1.25 0 1 0 2.5 0a1.25 1.25 0 1 0 -2.5 0zM437.2 46.05a1.25 1.25 0 1 0 2.5 0a1.25 1.25 0 1 0 -2.5 0zM441.1 47.75a1.25 1.25 0 1 0 2.5 0a1.25 1.25 0 1 0 -2.5 0zM438.3 49.15a1.25 1.25 0 1 0 2.5 0a1.25 1.25 0 1 0 -2.5 0zM443.1 49.95a1.25 1.25 0 1 0 2.5 0a1.25 1.25 0 1 0 -2.5 0zM445.35 46.05a1.25 1.25 0 1 0 2.5 0a1.25 1.25 0 1 0 -2.5 0zM449.25 47.75a1.25 1.25 0 1 0 2.5 0a1.25 1.25 0 1 0 -2.5 0zM446.45 49.15a1.25 1.25 0 1 0 2.5 0a1.25 1.25 0 1 0 -2.5 0zM451.25 49.95a1.25 1.25 0 1 0 2.5 0a1.25 1.25 0 1 0 -2.5 0zM453.5 46.05a1.25 1.25 0 1 0 2.5 0a1.25 1.25 0 1 0 -2.5 0z" fill="#000"/>
<rect x="378.85" y="36.75" width="74.7" height="11.6" fill="none" stroke="#555" stroke-width="0.9"/>
<path clip-path="url(#c30)" d="M377.4 39.95L455 -37.65M377.4 48.1L455 -29.5M377.4 56.25L455 -21.35M377.4 64.4L455 -13.2M377.4 72.55L455 -5.05M377.4 80.7L455 3.1M377.4 88.85L455 11.25M377.4 97L455 19.4M377.4 105.15L455 27.55M377.4 113.3L455 35.7M377.4 121.45L455 43.85M377.4 129.6L455 52M377.4 137.75L455 60.15M377.4 145.9L455 68.3M377.4 154.05L455 76.45M375.15 58.5l4.08 4.08M383.3 58.5l4.08 4.08M391.45 58.5l4.08 4.08M399.6 58.5l4.08 4.08M407.75 58.5l4.08 4.08M415.9 58.5l4.08 4.08M424.05 58.5l4.08 4.08M432.2 58.5l4.08 4.08M440.35 58.5l4.08 4.08M448.5 58.5l4.08 4.08M375.15 66.65l4.08 4.08M383.3 66.65l4.08 4.08M391.45 66.65l4.08 4.08M399.6 66.65l4.08 4.08M407.75 66.65l4.08 4.08M415.9 66.65l4.08 4.08M424.05 66.65l4.08 4.08M432.2 66.65l4.08 4.08M440.35 66.65l4.08 4.08M448.5 66.65l4.08 4.08" stroke="#161616" stroke-width="1.15" fill="none"/>
<rect x="378.85" y="54.95" width="74.7" height="11.7" fill="none" stroke="#555" stroke-width="0.9"/>
<text x="461.6" y="14.3" font-size="8.7" style="stroke-width:0.6px">PT1</text>
<text x="461.6" y="31.4" font-size="8.7" style="stroke-width:0.6px">PT2</text>
<text x="461.6" y="48.5" font-size="8.7" style="stroke-width:0.6px">PT3</text>
<text x="461.6" y="65.8" font-size="8.7" style="stroke-width:0.6px">PT4</text>
<path d="M484.8 4.2C487.6 4.6 489 6 489 9V29.5C489 33.2 490.2 35 492.8 35.6C490.2 36.2 489 38 489 41.5V61C489 64 487.6 65.4 484.8 65.8" stroke="#555" stroke-width="0.9" fill="none"/>
<text x="500.6" y="39.4" font-size="10.3">MM</text>
</svg>
</body>
</html>
